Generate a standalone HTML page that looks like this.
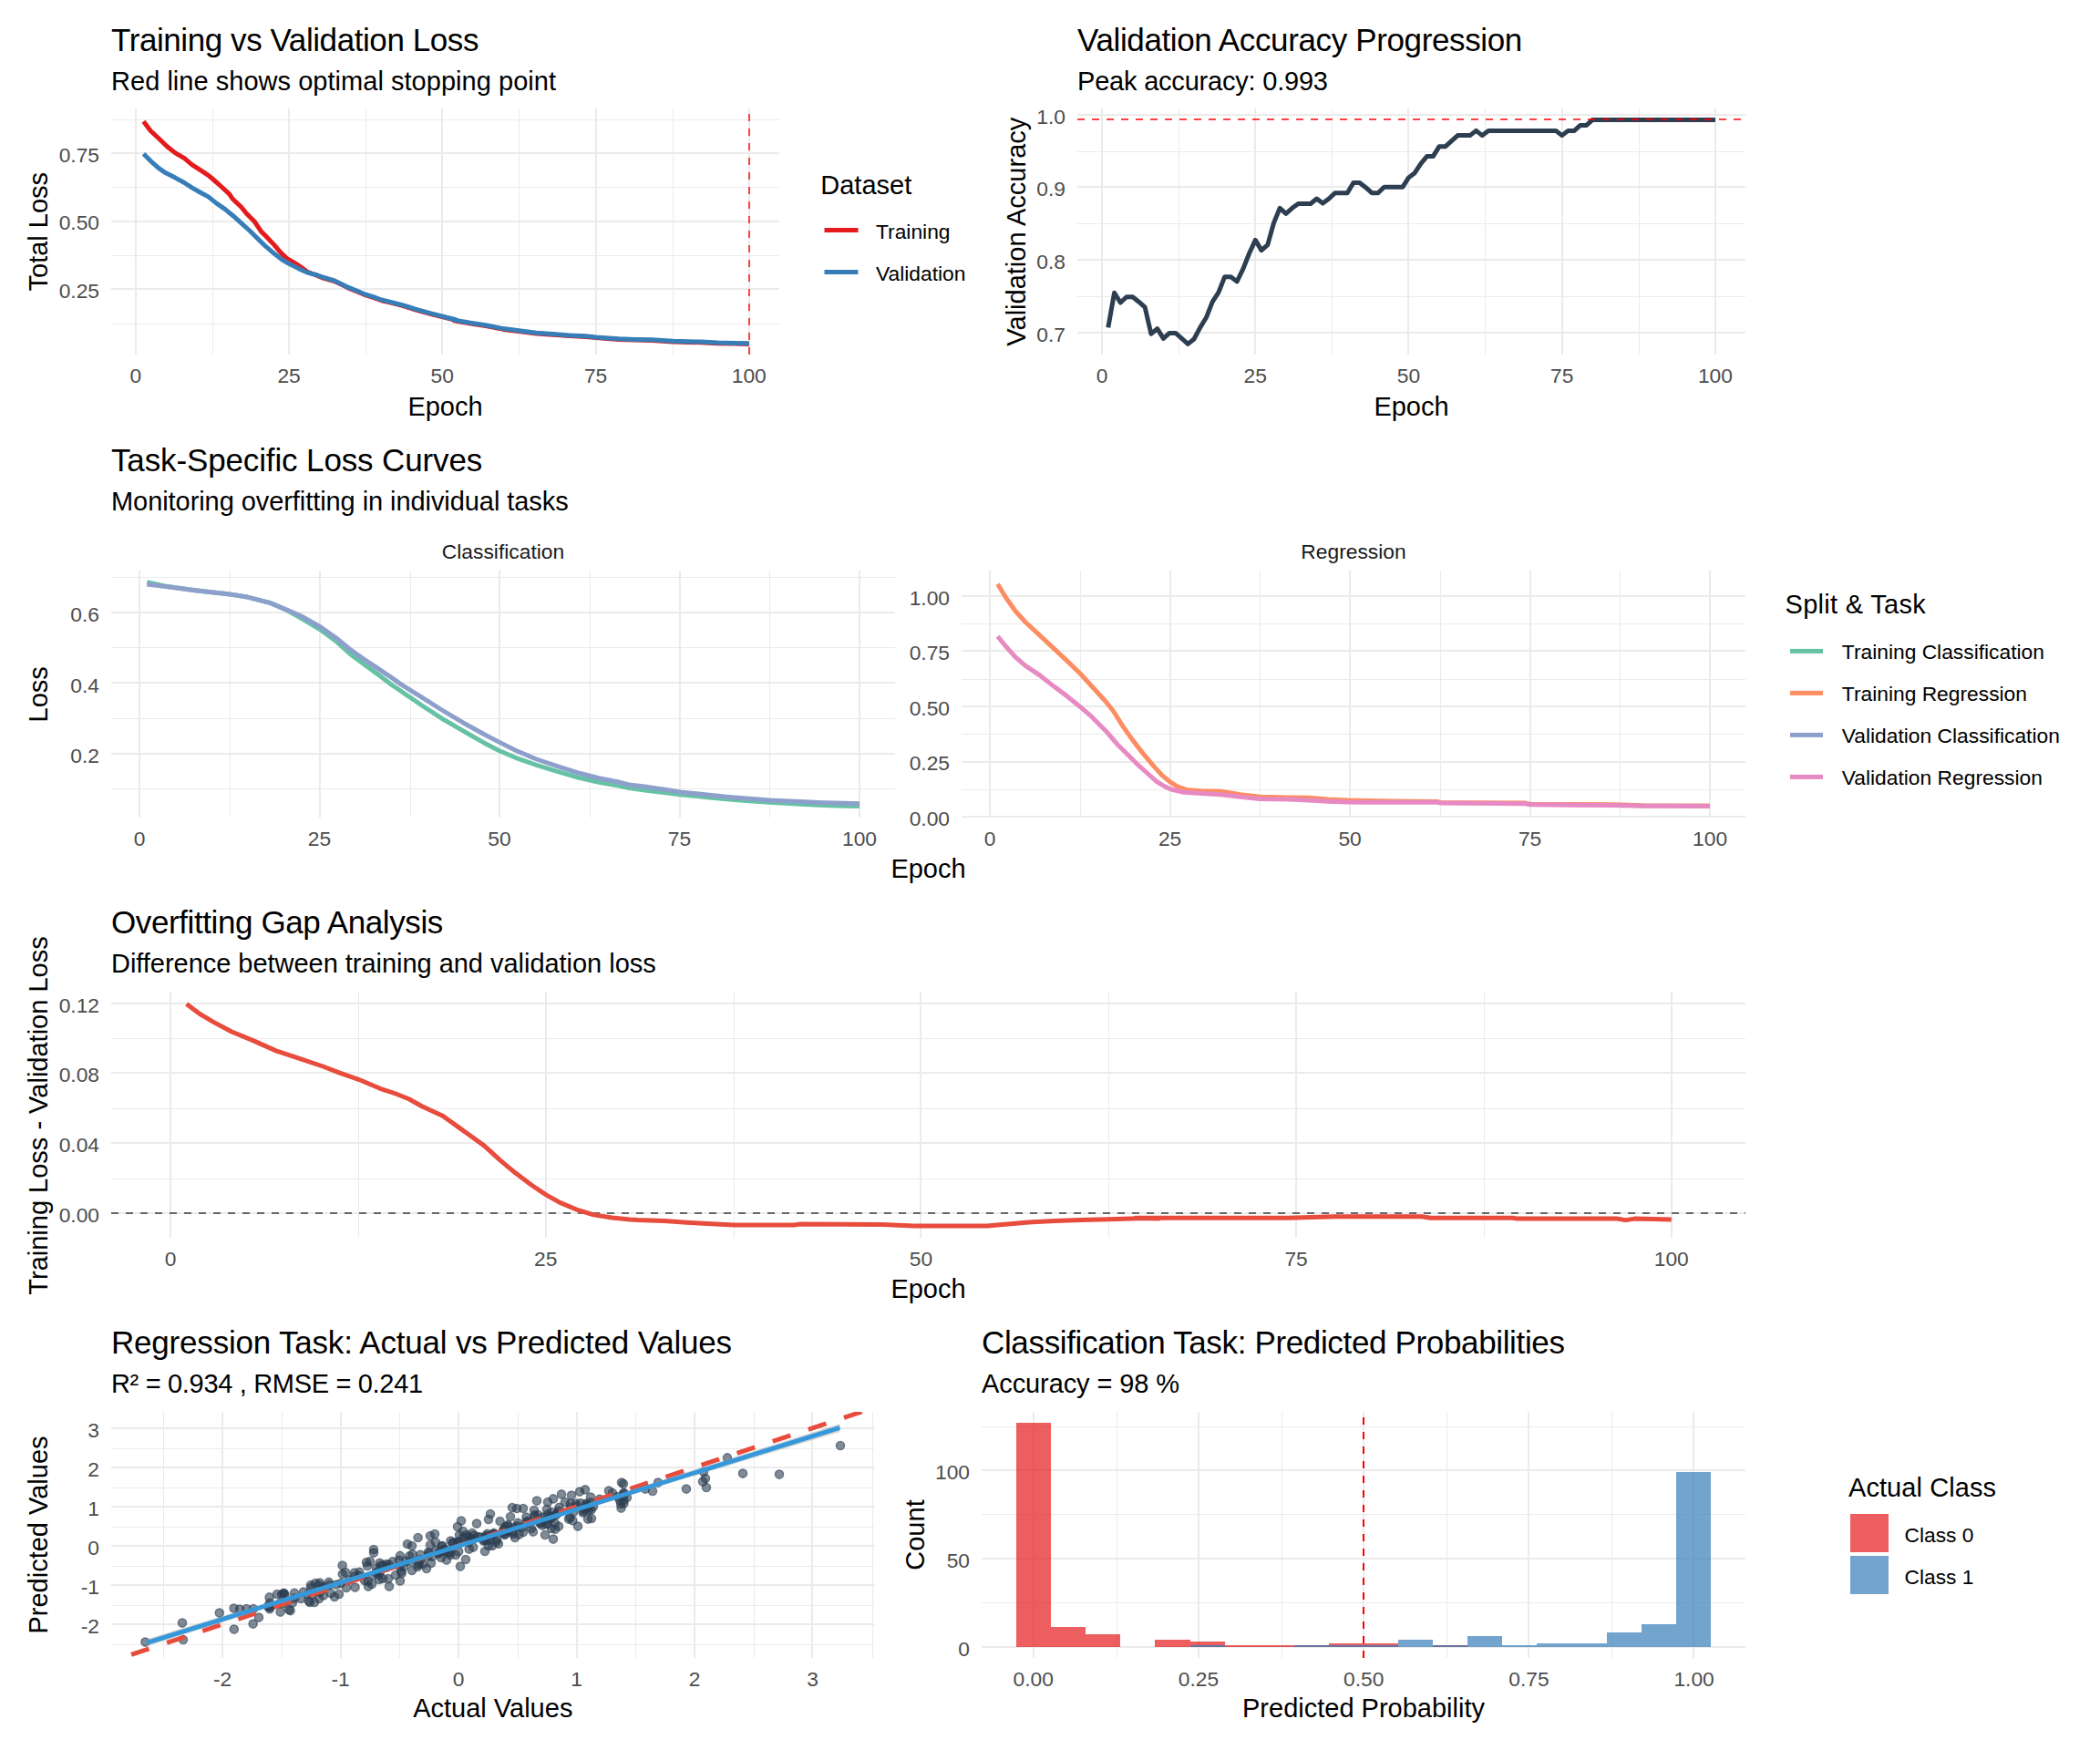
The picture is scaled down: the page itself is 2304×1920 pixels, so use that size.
<!DOCTYPE html>
<html><head><meta charset="utf-8"><title>Training diagnostics</title>
<style>
html,body{margin:0;padding:0;background:#fff;}
svg{display:block;}
text{font-family:"Liberation Sans",sans-serif;}
</style></head><body>
<svg width="2304" height="1920" viewBox="0 0 2304 1920">
<rect width="2304" height="1920" fill="#fff"/>
<rect x="122.0" y="131" width="733.0" height="1" fill="#EBEBEB" />
<rect x="122.0" y="205" width="733.0" height="1" fill="#EBEBEB" />
<rect x="122.0" y="280" width="733.0" height="1" fill="#EBEBEB" />
<rect x="122.0" y="355" width="733.0" height="1" fill="#EBEBEB" />
<rect x="233" y="119.0" width="1" height="270.0" fill="#EBEBEB" />
<rect x="401" y="119.0" width="1" height="270.0" fill="#EBEBEB" />
<rect x="569" y="119.0" width="1" height="270.0" fill="#EBEBEB" />
<rect x="738" y="119.0" width="1" height="270.0" fill="#EBEBEB" />
<rect x="122.0" y="167" width="733.0" height="2" fill="#EBEBEB" />
<rect x="122.0" y="242" width="733.0" height="2" fill="#EBEBEB" />
<rect x="122.0" y="316" width="733.0" height="2" fill="#EBEBEB" />
<rect x="148" y="119.0" width="2" height="270.0" fill="#EBEBEB" />
<rect x="316" y="119.0" width="2" height="270.0" fill="#EBEBEB" />
<rect x="484" y="119.0" width="2" height="270.0" fill="#EBEBEB" />
<rect x="653" y="119.0" width="2" height="270.0" fill="#EBEBEB" />
<rect x="821" y="119.0" width="2" height="270.0" fill="#EBEBEB" />
<text x="122.0" y="56.0" font-size="35" text-anchor="start" fill="#000" letter-spacing="-0.422">Training vs Validation Loss</text>
<text x="122.0" y="99.0" font-size="29" text-anchor="start" fill="#000" letter-spacing="0.032">Red line shows optimal stopping point</text>
<text x="109.0" y="326.9" font-size="22.8" text-anchor="end" fill="#4D4D4D">0.25</text>
<text x="109.0" y="252.4" font-size="22.8" text-anchor="end" fill="#4D4D4D">0.50</text>
<text x="109.0" y="177.9" font-size="22.8" text-anchor="end" fill="#4D4D4D">0.75</text>
<text x="148.8" y="420.4" font-size="22.8" text-anchor="middle" fill="#4D4D4D">0</text>
<text x="317.1" y="420.4" font-size="22.8" text-anchor="middle" fill="#4D4D4D">25</text>
<text x="485.3" y="420.4" font-size="22.8" text-anchor="middle" fill="#4D4D4D">50</text>
<text x="653.6" y="420.4" font-size="22.8" text-anchor="middle" fill="#4D4D4D">75</text>
<text x="821.8" y="420.4" font-size="22.8" text-anchor="middle" fill="#4D4D4D">100</text>
<text x="488.5" y="455.5" font-size="29" text-anchor="middle" fill="#000">Epoch</text>
<text x="52.0" y="254.2" font-size="29" text-anchor="middle" fill="#000" transform="rotate(-90 52.0 254.2)">Total Loss</text>
<polyline points="157.5,133.2 165.2,143.5 174.3,152.0 183.3,160.7 192.4,167.9 202.3,173.7 210.5,180.6 219.5,186.4 228.6,192.3 233.5,196.5 243.1,205.0 251.6,212.8 254.8,217.7 264.8,227.3 270.2,234.0 279.2,243.0 286.5,253.9 291.9,259.3 301.0,268.9 308.2,277.4 314.5,283.4 322.7,288.2 329.9,292.8 337.2,298.2 348.0,302.5 355.3,305.3 366.1,308.3 373.3,311.6 382.4,316.1 391.4,319.7 401.4,323.9 409.5,326.4 418.6,329.7 427.6,331.9 436.7,334.2 445.7,336.6 454.8,339.6 463.8,342.0 472.9,344.5 481.9,346.9 491.0,349.2 500.0,351.4 498.1,351.8 516.2,355.0 534.3,357.7 552.4,361.4 569.4,363.5 588.6,365.9 606.7,367.3 624.8,368.6 642.9,369.5 653.9,370.6 679.1,372.4 697.2,373.1 715.3,373.5 738.4,374.9 769.5,375.8 787.6,376.7 805.7,377.1 821.8,377.5" fill="none" stroke="#E41A1C" stroke-width="5" stroke-linejoin="round" stroke-linecap="butt" />
<polyline points="157.5,168.8 165.2,176.6 174.3,184.6 181.5,189.6 192.4,195.1 202.3,200.5 210.5,205.9 219.5,211.0 228.6,215.9 237.6,223.1 246.7,229.4 255.7,236.7 264.8,244.8 273.8,253.0 282.9,262.0 291.9,270.7 301.0,278.3 310.0,285.2 317.1,289.2 328.1,294.9 337.2,299.1 348.0,301.8 355.3,304.5 366.1,307.6 373.3,310.9 382.4,315.4 391.4,319.0 401.4,323.2 409.5,325.7 418.6,329.0 427.6,331.1 436.7,333.5 445.7,335.8 454.8,338.9 463.8,341.3 472.9,343.8 481.9,346.2 491.0,348.5 500.0,350.7 498.1,351.0 516.2,354.3 534.3,357.0 552.4,360.6 569.4,362.8 588.6,365.2 606.7,366.6 624.8,367.9 642.9,368.8 653.9,369.9 679.1,371.7 697.2,372.4 715.3,372.8 738.4,374.2 769.5,375.1 787.6,376.0 805.7,376.4 821.8,376.7" fill="none" stroke="#377EB8" stroke-width="5" stroke-linejoin="round" stroke-linecap="butt" />
<line x1="822" y1="389" x2="822" y2="119" stroke="#FF4040" stroke-width="2" stroke-dasharray="8 8" stroke-dashoffset="0" shape-rendering="crispEdges"/>
<text x="900.3" y="213.0" font-size="29" text-anchor="start" fill="#000">Dataset</text>
<rect x="904.5" y="250.0" width="37" height="5" fill="#E41A1C"/>
<text x="961.0" y="261.5" font-size="22.8" text-anchor="start" fill="#000">Training</text>
<rect x="904.5" y="296.0" width="37" height="5" fill="#377EB8"/>
<text x="961.0" y="307.5" font-size="22.8" text-anchor="start" fill="#000">Validation</text>
<rect x="1182.0" y="166" width="733.0" height="1" fill="#EBEBEB" />
<rect x="1182.0" y="245" width="733.0" height="1" fill="#EBEBEB" />
<rect x="1182.0" y="325" width="733.0" height="1" fill="#EBEBEB" />
<rect x="1293" y="119.0" width="1" height="270.0" fill="#EBEBEB" />
<rect x="1461" y="119.0" width="1" height="270.0" fill="#EBEBEB" />
<rect x="1629" y="119.0" width="1" height="270.0" fill="#EBEBEB" />
<rect x="1798" y="119.0" width="1" height="270.0" fill="#EBEBEB" />
<rect x="1182.0" y="125" width="733.0" height="2" fill="#EBEBEB" />
<rect x="1182.0" y="204" width="733.0" height="2" fill="#EBEBEB" />
<rect x="1182.0" y="284" width="733.0" height="2" fill="#EBEBEB" />
<rect x="1182.0" y="364" width="733.0" height="2" fill="#EBEBEB" />
<rect x="1208" y="119.0" width="2" height="270.0" fill="#EBEBEB" />
<rect x="1376" y="119.0" width="2" height="270.0" fill="#EBEBEB" />
<rect x="1544" y="119.0" width="2" height="270.0" fill="#EBEBEB" />
<rect x="1713" y="119.0" width="2" height="270.0" fill="#EBEBEB" />
<rect x="1881" y="119.0" width="2" height="270.0" fill="#EBEBEB" />
<text x="1182.0" y="56.0" font-size="35" text-anchor="start" fill="#000" letter-spacing="-0.368">Validation Accuracy Progression</text>
<text x="1182.0" y="99.0" font-size="29" text-anchor="start" fill="#000" letter-spacing="-0.205">Peak accuracy: 0.993</text>
<text x="1169.0" y="374.9" font-size="22.8" text-anchor="end" fill="#4D4D4D">0.7</text>
<text x="1169.0" y="295.2" font-size="22.8" text-anchor="end" fill="#4D4D4D">0.8</text>
<text x="1169.0" y="215.4" font-size="22.8" text-anchor="end" fill="#4D4D4D">0.9</text>
<text x="1169.0" y="135.7" font-size="22.8" text-anchor="end" fill="#4D4D4D">1.0</text>
<text x="1209.1" y="420.4" font-size="22.8" text-anchor="middle" fill="#4D4D4D">0</text>
<text x="1377.3" y="420.4" font-size="22.8" text-anchor="middle" fill="#4D4D4D">25</text>
<text x="1545.5" y="420.4" font-size="22.8" text-anchor="middle" fill="#4D4D4D">50</text>
<text x="1713.7" y="420.4" font-size="22.8" text-anchor="middle" fill="#4D4D4D">75</text>
<text x="1881.9" y="420.4" font-size="22.8" text-anchor="middle" fill="#4D4D4D">100</text>
<text x="1548.5" y="455.5" font-size="29" text-anchor="middle" fill="#000">Epoch</text>
<text x="1125.0" y="254.2" font-size="29" text-anchor="middle" fill="#000" transform="rotate(-90 1125.0 254.2)">Validation Accuracy</text>
<polyline points="1215.8,359.4 1222.6,321.2 1229.3,332.0 1236.0,325.7 1242.7,325.7 1249.5,331.2 1256.2,337.2 1262.9,366.3 1269.7,360.6 1276.4,371.4 1283.1,365.4 1289.8,365.4 1296.6,371.4 1303.3,377.4 1310.0,372.0 1316.7,359.4 1323.5,348.3 1330.2,331.2 1336.9,320.9 1343.7,303.7 1350.4,303.7 1357.1,308.9 1363.8,295.2 1370.6,278.0 1377.3,263.4 1384.0,274.6 1390.8,268.6 1397.5,244.6 1404.2,228.3 1410.9,234.3 1417.7,228.3 1424.4,223.5 1431.1,223.5 1437.9,223.5 1444.6,218.0 1451.3,223.1 1458.0,218.0 1464.8,211.7 1471.5,211.7 1478.2,211.7 1484.9,200.5 1491.7,200.5 1498.4,205.7 1505.1,211.7 1511.9,211.7 1518.6,205.3 1525.3,205.3 1532.0,205.3 1538.8,205.3 1545.5,194.9 1552.2,189.7 1559.0,179.4 1565.7,171.4 1572.4,171.4 1579.1,160.7 1585.9,160.7 1592.6,154.6 1599.3,148.6 1606.1,148.6 1612.8,148.6 1619.5,143.4 1626.2,148.6 1633.0,143.4 1639.7,143.4 1646.4,143.4 1653.1,143.4 1659.9,143.4 1666.6,143.4 1673.3,143.4 1680.1,143.4 1686.8,143.4 1693.5,143.4 1700.2,143.4 1707.0,143.4 1713.7,148.6 1720.4,143.4 1727.2,143.4 1733.9,137.4 1740.6,137.4 1747.3,131.4 1754.1,131.4 1760.8,131.4 1767.5,131.4 1774.3,131.4 1781.0,131.4 1787.7,131.4 1794.4,131.4 1801.2,131.4 1807.9,131.4 1814.6,131.4 1821.3,131.4 1828.1,131.4 1834.8,131.4 1841.5,131.4 1848.3,131.4 1855.0,131.4 1861.7,131.4 1868.4,131.4 1875.2,131.4 1881.9,131.4" fill="none" stroke="#2C3E50" stroke-width="5" stroke-linejoin="round" stroke-linecap="butt" stroke-linejoin="miter"/>
<line x1="1182" y1="131" x2="1915" y2="131" stroke="#FF0000" stroke-opacity="0.75" stroke-width="2" stroke-dasharray="8 8" shape-rendering="crispEdges"/>
<rect x="122.0" y="633" width="860.0" height="1" fill="#EBEBEB" />
<rect x="122.0" y="710" width="860.0" height="1" fill="#EBEBEB" />
<rect x="122.0" y="788" width="860.0" height="1" fill="#EBEBEB" />
<rect x="122.0" y="865" width="860.0" height="1" fill="#EBEBEB" />
<rect x="252" y="626.0" width="1" height="271.0" fill="#EBEBEB" />
<rect x="450" y="626.0" width="1" height="271.0" fill="#EBEBEB" />
<rect x="647" y="626.0" width="1" height="271.0" fill="#EBEBEB" />
<rect x="844" y="626.0" width="1" height="271.0" fill="#EBEBEB" />
<rect x="122.0" y="671" width="860.0" height="2" fill="#EBEBEB" />
<rect x="122.0" y="748" width="860.0" height="2" fill="#EBEBEB" />
<rect x="122.0" y="826" width="860.0" height="2" fill="#EBEBEB" />
<rect x="152" y="626.0" width="2" height="271.0" fill="#EBEBEB" />
<rect x="350" y="626.0" width="2" height="271.0" fill="#EBEBEB" />
<rect x="547" y="626.0" width="2" height="271.0" fill="#EBEBEB" />
<rect x="745" y="626.0" width="2" height="271.0" fill="#EBEBEB" />
<rect x="942" y="626.0" width="2" height="271.0" fill="#EBEBEB" />
<text x="109.0" y="836.9" font-size="22.8" text-anchor="end" fill="#4D4D4D">0.2</text>
<text x="109.0" y="759.6" font-size="22.8" text-anchor="end" fill="#4D4D4D">0.4</text>
<text x="109.0" y="682.2" font-size="22.8" text-anchor="end" fill="#4D4D4D">0.6</text>
<text x="153.0" y="928.4" font-size="22.8" text-anchor="middle" fill="#4D4D4D">0</text>
<text x="350.5" y="928.4" font-size="22.8" text-anchor="middle" fill="#4D4D4D">25</text>
<text x="548.0" y="928.4" font-size="22.8" text-anchor="middle" fill="#4D4D4D">50</text>
<text x="745.5" y="928.4" font-size="22.8" text-anchor="middle" fill="#4D4D4D">75</text>
<text x="943.0" y="928.4" font-size="22.8" text-anchor="middle" fill="#4D4D4D">100</text>
<text x="552.0" y="612.8" font-size="22.8" text-anchor="middle" fill="#1A1A1A">Classification</text>
<polyline points="161.3,638.7 184.2,643.6 216.2,647.9 252.5,652.1 269.5,654.7 297.0,661.7 315.2,669.8 330.5,678.3 351.0,690.5 368.6,703.5 383.8,717.2 399.0,728.6 414.3,739.6 429.5,751.2 440.0,758.3 462.9,774.0 485.7,788.8 508.6,802.2 531.4,815.2 548.0,823.8 565.7,831.3 588.6,839.4 611.4,846.3 634.3,853.1 657.1,858.3 680.0,862.3 690.0,864.6 711.4,867.4 732.8,870.0 745.9,871.7 775.7,874.7 797.1,876.8 818.6,878.6 844.5,880.3 882.8,882.4 904.3,883.5 925.7,884.3 943.0,884.6" fill="none" stroke="#66C2A5" stroke-width="5" stroke-linejoin="round" stroke-linecap="butt" />
<polyline points="161.3,641.0 185.7,644.0 216.2,647.9 252.5,652.1 269.5,654.7 297.0,661.6 315.2,669.2 330.5,676.0 351.0,687.5 368.6,699.7 383.8,712.2 399.0,723.0 414.3,733.2 429.5,743.4 440.0,750.9 462.9,765.2 485.7,779.5 508.6,793.2 531.4,805.8 548.0,814.4 565.7,823.2 588.6,833.0 611.4,840.6 634.3,848.0 657.1,853.7 680.0,858.3 690.0,861.0 711.4,863.6 732.8,866.8 745.9,868.9 775.7,872.1 797.1,874.3 818.6,876.0 844.5,878.1 882.8,879.8 904.3,880.7 925.7,881.3 943.0,881.8" fill="none" stroke="#8DA0CB" stroke-width="5" stroke-linejoin="round" stroke-linecap="butt" />
<rect x="1055.0" y="684" width="860.0" height="1" fill="#EBEBEB" />
<rect x="1055.0" y="745" width="860.0" height="1" fill="#EBEBEB" />
<rect x="1055.0" y="805" width="860.0" height="1" fill="#EBEBEB" />
<rect x="1055.0" y="866" width="860.0" height="1" fill="#EBEBEB" />
<rect x="1185" y="626.0" width="1" height="271.0" fill="#EBEBEB" />
<rect x="1382" y="626.0" width="1" height="271.0" fill="#EBEBEB" />
<rect x="1580" y="626.0" width="1" height="271.0" fill="#EBEBEB" />
<rect x="1777" y="626.0" width="1" height="271.0" fill="#EBEBEB" />
<rect x="1055.0" y="653" width="860.0" height="2" fill="#EBEBEB" />
<rect x="1055.0" y="713" width="860.0" height="2" fill="#EBEBEB" />
<rect x="1055.0" y="774" width="860.0" height="2" fill="#EBEBEB" />
<rect x="1055.0" y="835" width="860.0" height="2" fill="#EBEBEB" />
<rect x="1055.0" y="895" width="860.0" height="2" fill="#EBEBEB" />
<rect x="1085" y="626.0" width="2" height="271.0" fill="#EBEBEB" />
<rect x="1283" y="626.0" width="2" height="271.0" fill="#EBEBEB" />
<rect x="1480" y="626.0" width="2" height="271.0" fill="#EBEBEB" />
<rect x="1678" y="626.0" width="2" height="271.0" fill="#EBEBEB" />
<rect x="1875" y="626.0" width="2" height="271.0" fill="#EBEBEB" />
<text x="1042.0" y="905.9" font-size="22.8" text-anchor="end" fill="#4D4D4D">0.00</text>
<text x="1042.0" y="845.4" font-size="22.8" text-anchor="end" fill="#4D4D4D">0.25</text>
<text x="1042.0" y="784.9" font-size="22.8" text-anchor="end" fill="#4D4D4D">0.50</text>
<text x="1042.0" y="724.3" font-size="22.8" text-anchor="end" fill="#4D4D4D">0.75</text>
<text x="1042.0" y="663.8" font-size="22.8" text-anchor="end" fill="#4D4D4D">1.00</text>
<text x="1086.1" y="928.4" font-size="22.8" text-anchor="middle" fill="#4D4D4D">0</text>
<text x="1283.6" y="928.4" font-size="22.8" text-anchor="middle" fill="#4D4D4D">25</text>
<text x="1481.1" y="928.4" font-size="22.8" text-anchor="middle" fill="#4D4D4D">50</text>
<text x="1678.6" y="928.4" font-size="22.8" text-anchor="middle" fill="#4D4D4D">75</text>
<text x="1876.1" y="928.4" font-size="22.8" text-anchor="middle" fill="#4D4D4D">100</text>
<text x="1485.0" y="612.8" font-size="22.8" text-anchor="middle" fill="#1A1A1A">Regression</text>
<polyline points="1094.6,640.7 1103.6,655.7 1114.3,670.7 1125.0,682.5 1140.0,696.4 1155.0,710.3 1170.0,724.3 1185.4,739.3 1200.0,755.3 1212.8,769.3 1221.4,780.0 1232.1,797.1 1242.8,812.1 1253.6,826.1 1264.3,838.9 1275.0,850.7 1284.0,858.2 1292.1,863.1 1302.8,866.8 1317.8,867.8 1339.3,868.3 1360.7,871.7 1382.5,874.3 1414.3,874.9 1435.7,875.3 1457.1,877.1 1478.5,878.1 1500.0,878.6 1577.1,879.6 1580.3,880.5 1673.6,881.1 1678.9,882.2 1720.7,882.6 1770.0,882.8 1802.1,883.7 1876.0,883.9" fill="none" stroke="#FC8D62" stroke-width="5" stroke-linejoin="round" stroke-linecap="butt" />
<polyline points="1094.6,698.1 1103.6,709.3 1114.3,721.1 1125.0,730.3 1140.0,740.3 1155.0,752.1 1170.0,763.3 1185.4,775.7 1197.8,786.4 1212.8,801.4 1225.7,816.4 1238.6,829.3 1247.1,837.8 1257.8,847.5 1268.6,857.1 1277.1,862.5 1284.0,865.7 1298.6,869.3 1317.8,870.4 1339.3,871.7 1360.7,874.3 1382.5,876.4 1414.3,877.1 1435.7,878.1 1457.1,879.2 1478.5,880.1 1500.0,880.3 1577.1,880.3 1580.3,881.1 1673.6,881.8 1678.9,882.8 1720.7,883.3 1770.0,883.5 1802.1,884.3 1876.0,884.6" fill="none" stroke="#E78AC3" stroke-width="5" stroke-linejoin="round" stroke-linecap="butt" />
<text x="122.0" y="517.0" font-size="35" text-anchor="start" fill="#000" letter-spacing="-0.130">Task-Specific Loss Curves</text>
<text x="122.0" y="560.0" font-size="29" text-anchor="start" fill="#000" letter-spacing="-0.069">Monitoring overfitting in individual tasks</text>
<text x="1018.5" y="963.0" font-size="29" text-anchor="middle" fill="#000">Epoch</text>
<text x="52.0" y="761.8" font-size="29" text-anchor="middle" fill="#000" transform="rotate(-90 52.0 761.8)">Loss</text>
<text x="1958.5" y="673.4" font-size="29" text-anchor="start" fill="#000" letter-spacing="0.306">Split &amp; Task</text>
<rect x="1964" y="711.9" width="36" height="5" fill="#66C2A5"/>
<text x="2020.8" y="723.4" font-size="22.8" text-anchor="start" fill="#000">Training Classification</text>
<rect x="1964" y="757.9" width="36" height="5" fill="#FC8D62"/>
<text x="2020.8" y="769.4" font-size="22.8" text-anchor="start" fill="#000">Training Regression</text>
<rect x="1964" y="803.9" width="36" height="5" fill="#8DA0CB"/>
<text x="2020.8" y="815.4" font-size="22.8" text-anchor="start" fill="#000">Validation Classification</text>
<rect x="1964" y="849.9" width="36" height="5" fill="#E78AC3"/>
<text x="2020.8" y="861.4" font-size="22.8" text-anchor="start" fill="#000">Validation Regression</text>
<rect x="122.0" y="1139" width="1793.0" height="1" fill="#EBEBEB" />
<rect x="122.0" y="1216" width="1793.0" height="1" fill="#EBEBEB" />
<rect x="122.0" y="1293" width="1793.0" height="1" fill="#EBEBEB" />
<rect x="393" y="1088.0" width="1" height="270.0" fill="#EBEBEB" />
<rect x="805" y="1088.0" width="1" height="270.0" fill="#EBEBEB" />
<rect x="1216" y="1088.0" width="1" height="270.0" fill="#EBEBEB" />
<rect x="1628" y="1088.0" width="1" height="270.0" fill="#EBEBEB" />
<rect x="122.0" y="1100" width="1793.0" height="2" fill="#EBEBEB" />
<rect x="122.0" y="1176" width="1793.0" height="2" fill="#EBEBEB" />
<rect x="122.0" y="1253" width="1793.0" height="2" fill="#EBEBEB" />
<rect x="122.0" y="1330" width="1793.0" height="2" fill="#EBEBEB" />
<rect x="186" y="1088.0" width="2" height="270.0" fill="#EBEBEB" />
<rect x="598" y="1088.0" width="2" height="270.0" fill="#EBEBEB" />
<rect x="1009" y="1088.0" width="2" height="270.0" fill="#EBEBEB" />
<rect x="1421" y="1088.0" width="2" height="270.0" fill="#EBEBEB" />
<rect x="1833" y="1088.0" width="2" height="270.0" fill="#EBEBEB" />
<text x="122.0" y="1024.0" font-size="35" text-anchor="start" fill="#000" letter-spacing="-0.399">Overfitting Gap Analysis</text>
<text x="122.0" y="1067.0" font-size="29" text-anchor="start" fill="#000" letter-spacing="-0.032">Difference between training and validation loss</text>
<text x="109.0" y="1340.9" font-size="22.8" text-anchor="end" fill="#4D4D4D">0.00</text>
<text x="109.0" y="1264.1" font-size="22.8" text-anchor="end" fill="#4D4D4D">0.04</text>
<text x="109.0" y="1187.4" font-size="22.8" text-anchor="end" fill="#4D4D4D">0.08</text>
<text x="109.0" y="1110.6" font-size="22.8" text-anchor="end" fill="#4D4D4D">0.12</text>
<text x="187.1" y="1389.4" font-size="22.8" text-anchor="middle" fill="#4D4D4D">0</text>
<text x="598.8" y="1389.4" font-size="22.8" text-anchor="middle" fill="#4D4D4D">25</text>
<text x="1010.4" y="1389.4" font-size="22.8" text-anchor="middle" fill="#4D4D4D">50</text>
<text x="1422.1" y="1389.4" font-size="22.8" text-anchor="middle" fill="#4D4D4D">75</text>
<text x="1833.8" y="1389.4" font-size="22.8" text-anchor="middle" fill="#4D4D4D">100</text>
<text x="1018.5" y="1424.0" font-size="29" text-anchor="middle" fill="#000">Epoch</text>
<text x="52.0" y="1224.0" font-size="29" text-anchor="middle" fill="#000" transform="rotate(-90 52.0 1224.0)">Training Loss - Validation Loss</text>
<line x1="122" y1="1331" x2="1915" y2="1331" stroke="#666666" stroke-width="2" stroke-dasharray="8 8" shape-rendering="crispEdges"/>
<polyline points="204.6,1101.4 220.0,1112.9 234.3,1121.4 254.3,1132.0 277.1,1141.4 302.9,1152.9 328.6,1161.4 354.3,1170.0 371.4,1176.6 393.4,1184.3 417.1,1194.3 434.3,1200.0 448.6,1205.7 462.9,1213.7 485.7,1224.3 505.7,1238.6 531.4,1257.1 548.6,1272.9 565.7,1287.1 582.9,1300.0 599.1,1310.9 614.3,1319.4 634.3,1327.7 651.4,1332.9 671.4,1336.0 691.4,1338.0 700.0,1338.6 728.6,1339.4 757.1,1341.4 785.7,1342.9 805.7,1344.0 871.4,1344.0 877.1,1343.1 968.6,1343.4 1002.9,1345.1 1082.9,1345.1 1100.0,1343.4 1128.6,1340.9 1157.1,1339.4 1185.7,1338.6 1216.6,1337.7 1257.1,1336.6 1271.4,1337.1 1245.7,1336.2 1412.4,1336.2 1464.8,1334.8 1560.0,1334.8 1569.5,1336.2 1660.0,1336.2 1664.8,1337.1 1774.3,1337.1 1783.8,1338.6 1793.3,1337.1 1833.8,1338.1" fill="none" stroke="#E74C3C" stroke-width="5" stroke-linejoin="round" stroke-linecap="butt" />
<rect x="122.0" y="1589" width="837.5" height="1" fill="#EBEBEB" />
<rect x="122.0" y="1632" width="837.5" height="1" fill="#EBEBEB" />
<rect x="122.0" y="1675" width="837.5" height="1" fill="#EBEBEB" />
<rect x="122.0" y="1718" width="837.5" height="1" fill="#EBEBEB" />
<rect x="122.0" y="1761" width="837.5" height="1" fill="#EBEBEB" />
<rect x="122.0" y="1804" width="837.5" height="1" fill="#EBEBEB" />
<rect x="179" y="1549.0" width="1" height="270.0" fill="#EBEBEB" />
<rect x="309" y="1549.0" width="1" height="270.0" fill="#EBEBEB" />
<rect x="438" y="1549.0" width="1" height="270.0" fill="#EBEBEB" />
<rect x="568" y="1549.0" width="1" height="270.0" fill="#EBEBEB" />
<rect x="697" y="1549.0" width="1" height="270.0" fill="#EBEBEB" />
<rect x="827" y="1549.0" width="1" height="270.0" fill="#EBEBEB" />
<rect x="957" y="1549.0" width="1" height="270.0" fill="#EBEBEB" />
<rect x="122.0" y="1566" width="837.5" height="2" fill="#EBEBEB" />
<rect x="122.0" y="1609" width="837.5" height="2" fill="#EBEBEB" />
<rect x="122.0" y="1652" width="837.5" height="2" fill="#EBEBEB" />
<rect x="122.0" y="1695" width="837.5" height="2" fill="#EBEBEB" />
<rect x="122.0" y="1738" width="837.5" height="2" fill="#EBEBEB" />
<rect x="122.0" y="1781" width="837.5" height="2" fill="#EBEBEB" />
<rect x="243" y="1549.0" width="2" height="270.0" fill="#EBEBEB" />
<rect x="373" y="1549.0" width="2" height="270.0" fill="#EBEBEB" />
<rect x="502" y="1549.0" width="2" height="270.0" fill="#EBEBEB" />
<rect x="632" y="1549.0" width="2" height="270.0" fill="#EBEBEB" />
<rect x="761" y="1549.0" width="2" height="270.0" fill="#EBEBEB" />
<rect x="890" y="1549.0" width="2" height="270.0" fill="#EBEBEB" />
<text x="122.0" y="1485.0" font-size="35" text-anchor="start" fill="#000" letter-spacing="-0.196">Regression Task: Actual vs Predicted Values</text>
<text x="122.0" y="1528.0" font-size="29" text-anchor="start" fill="#000" letter-spacing="-0.321">R² = 0.934 , RMSE = 0.241</text>
<text x="109.0" y="1792.1" font-size="22.8" text-anchor="end" fill="#4D4D4D">-2</text>
<text x="109.0" y="1749.0" font-size="22.8" text-anchor="end" fill="#4D4D4D">-1</text>
<text x="109.0" y="1706.0" font-size="22.8" text-anchor="end" fill="#4D4D4D">0</text>
<text x="109.0" y="1663.0" font-size="22.8" text-anchor="end" fill="#4D4D4D">1</text>
<text x="109.0" y="1619.9" font-size="22.8" text-anchor="end" fill="#4D4D4D">2</text>
<text x="109.0" y="1576.8" font-size="22.8" text-anchor="end" fill="#4D4D4D">3</text>
<text x="244.1" y="1850.4" font-size="22.8" text-anchor="middle" fill="#4D4D4D">-2</text>
<text x="373.6" y="1850.4" font-size="22.8" text-anchor="middle" fill="#4D4D4D">-1</text>
<text x="503.1" y="1850.4" font-size="22.8" text-anchor="middle" fill="#4D4D4D">0</text>
<text x="632.6" y="1850.4" font-size="22.8" text-anchor="middle" fill="#4D4D4D">1</text>
<text x="762.1" y="1850.4" font-size="22.8" text-anchor="middle" fill="#4D4D4D">2</text>
<text x="891.6" y="1850.4" font-size="22.8" text-anchor="middle" fill="#4D4D4D">3</text>
<text x="540.8" y="1884.0" font-size="29" text-anchor="middle" fill="#000">Actual Values</text>
<text x="52.0" y="1684.0" font-size="29" text-anchor="middle" fill="#000" transform="rotate(-90 52.0 1684.0)">Predicted Values</text>
<clipPath id="c5"><rect x="122" y="1549" width="837.5" height="270"/></clipPath>
<g clip-path="url(#c5)">
<circle cx="159.4" cy="1801.6" r="4.6" fill="#2C3E50" fill-opacity="0.6" stroke="#2C3E50" stroke-opacity="0.6" stroke-width="1.4"/>
<circle cx="200.0" cy="1780.6" r="4.6" fill="#2C3E50" fill-opacity="0.6" stroke="#2C3E50" stroke-opacity="0.6" stroke-width="1.4"/>
<circle cx="201.0" cy="1799.0" r="4.6" fill="#2C3E50" fill-opacity="0.6" stroke="#2C3E50" stroke-opacity="0.6" stroke-width="1.4"/>
<circle cx="240.8" cy="1769.6" r="4.6" fill="#2C3E50" fill-opacity="0.6" stroke="#2C3E50" stroke-opacity="0.6" stroke-width="1.4"/>
<circle cx="256.8" cy="1787.6" r="4.6" fill="#2C3E50" fill-opacity="0.6" stroke="#2C3E50" stroke-opacity="0.6" stroke-width="1.4"/>
<circle cx="256.6" cy="1764.6" r="4.6" fill="#2C3E50" fill-opacity="0.6" stroke="#2C3E50" stroke-opacity="0.6" stroke-width="1.4"/>
<circle cx="263.0" cy="1765.6" r="4.6" fill="#2C3E50" fill-opacity="0.6" stroke="#2C3E50" stroke-opacity="0.6" stroke-width="1.4"/>
<circle cx="270.4" cy="1765.0" r="4.6" fill="#2C3E50" fill-opacity="0.6" stroke="#2C3E50" stroke-opacity="0.6" stroke-width="1.4"/>
<circle cx="278.0" cy="1765.0" r="4.6" fill="#2C3E50" fill-opacity="0.6" stroke="#2C3E50" stroke-opacity="0.6" stroke-width="1.4"/>
<circle cx="277.6" cy="1781.6" r="4.6" fill="#2C3E50" fill-opacity="0.6" stroke="#2C3E50" stroke-opacity="0.6" stroke-width="1.4"/>
<circle cx="284.0" cy="1774.6" r="4.6" fill="#2C3E50" fill-opacity="0.6" stroke="#2C3E50" stroke-opacity="0.6" stroke-width="1.4"/>
<circle cx="295.6" cy="1752.4" r="4.6" fill="#2C3E50" fill-opacity="0.6" stroke="#2C3E50" stroke-opacity="0.6" stroke-width="1.4"/>
<circle cx="294.0" cy="1762.4" r="4.6" fill="#2C3E50" fill-opacity="0.6" stroke="#2C3E50" stroke-opacity="0.6" stroke-width="1.4"/>
<circle cx="304.0" cy="1749.0" r="4.6" fill="#2C3E50" fill-opacity="0.6" stroke="#2C3E50" stroke-opacity="0.6" stroke-width="1.4"/>
<circle cx="309.0" cy="1749.6" r="4.6" fill="#2C3E50" fill-opacity="0.6" stroke="#2C3E50" stroke-opacity="0.6" stroke-width="1.4"/>
<circle cx="311.0" cy="1748.0" r="4.6" fill="#2C3E50" fill-opacity="0.6" stroke="#2C3E50" stroke-opacity="0.6" stroke-width="1.4"/>
<circle cx="307.6" cy="1768.6" r="4.6" fill="#2C3E50" fill-opacity="0.6" stroke="#2C3E50" stroke-opacity="0.6" stroke-width="1.4"/>
<circle cx="317.0" cy="1766.0" r="4.6" fill="#2C3E50" fill-opacity="0.6" stroke="#2C3E50" stroke-opacity="0.6" stroke-width="1.4"/>
<circle cx="323.0" cy="1753.6" r="4.6" fill="#2C3E50" fill-opacity="0.6" stroke="#2C3E50" stroke-opacity="0.6" stroke-width="1.4"/>
<circle cx="330.0" cy="1754.0" r="4.6" fill="#2C3E50" fill-opacity="0.6" stroke="#2C3E50" stroke-opacity="0.6" stroke-width="1.4"/>
<circle cx="333.0" cy="1746.6" r="4.6" fill="#2C3E50" fill-opacity="0.6" stroke="#2C3E50" stroke-opacity="0.6" stroke-width="1.4"/>
<circle cx="341.0" cy="1739.0" r="4.6" fill="#2C3E50" fill-opacity="0.6" stroke="#2C3E50" stroke-opacity="0.6" stroke-width="1.4"/>
<circle cx="346.0" cy="1737.0" r="4.6" fill="#2C3E50" fill-opacity="0.6" stroke="#2C3E50" stroke-opacity="0.6" stroke-width="1.4"/>
<circle cx="350.0" cy="1739.0" r="4.6" fill="#2C3E50" fill-opacity="0.6" stroke="#2C3E50" stroke-opacity="0.6" stroke-width="1.4"/>
<circle cx="355.0" cy="1741.0" r="4.6" fill="#2C3E50" fill-opacity="0.6" stroke="#2C3E50" stroke-opacity="0.6" stroke-width="1.4"/>
<circle cx="340.0" cy="1758.0" r="4.6" fill="#2C3E50" fill-opacity="0.6" stroke="#2C3E50" stroke-opacity="0.6" stroke-width="1.4"/>
<circle cx="345.0" cy="1758.0" r="4.6" fill="#2C3E50" fill-opacity="0.6" stroke="#2C3E50" stroke-opacity="0.6" stroke-width="1.4"/>
<circle cx="350.0" cy="1754.0" r="4.6" fill="#2C3E50" fill-opacity="0.6" stroke="#2C3E50" stroke-opacity="0.6" stroke-width="1.4"/>
<circle cx="363.0" cy="1748.0" r="4.6" fill="#2C3E50" fill-opacity="0.6" stroke="#2C3E50" stroke-opacity="0.6" stroke-width="1.4"/>
<circle cx="367.0" cy="1752.0" r="4.6" fill="#2C3E50" fill-opacity="0.6" stroke="#2C3E50" stroke-opacity="0.6" stroke-width="1.4"/>
<circle cx="372.0" cy="1749.0" r="4.6" fill="#2C3E50" fill-opacity="0.6" stroke="#2C3E50" stroke-opacity="0.6" stroke-width="1.4"/>
<circle cx="375.6" cy="1717.6" r="4.6" fill="#2C3E50" fill-opacity="0.6" stroke="#2C3E50" stroke-opacity="0.6" stroke-width="1.4"/>
<circle cx="379.0" cy="1725.0" r="4.6" fill="#2C3E50" fill-opacity="0.6" stroke="#2C3E50" stroke-opacity="0.6" stroke-width="1.4"/>
<circle cx="389.0" cy="1725.6" r="4.6" fill="#2C3E50" fill-opacity="0.6" stroke="#2C3E50" stroke-opacity="0.6" stroke-width="1.4"/>
<circle cx="380.0" cy="1742.0" r="4.6" fill="#2C3E50" fill-opacity="0.6" stroke="#2C3E50" stroke-opacity="0.6" stroke-width="1.4"/>
<circle cx="389.6" cy="1741.6" r="4.6" fill="#2C3E50" fill-opacity="0.6" stroke="#2C3E50" stroke-opacity="0.6" stroke-width="1.4"/>
<circle cx="374.0" cy="1737.0" r="4.6" fill="#2C3E50" fill-opacity="0.6" stroke="#2C3E50" stroke-opacity="0.6" stroke-width="1.4"/>
<circle cx="402.0" cy="1714.0" r="4.6" fill="#2C3E50" fill-opacity="0.6" stroke="#2C3E50" stroke-opacity="0.6" stroke-width="1.4"/>
<circle cx="406.0" cy="1713.0" r="4.6" fill="#2C3E50" fill-opacity="0.6" stroke="#2C3E50" stroke-opacity="0.6" stroke-width="1.4"/>
<circle cx="403.0" cy="1718.0" r="4.6" fill="#2C3E50" fill-opacity="0.6" stroke="#2C3E50" stroke-opacity="0.6" stroke-width="1.4"/>
<circle cx="410.0" cy="1700.0" r="4.6" fill="#2C3E50" fill-opacity="0.6" stroke="#2C3E50" stroke-opacity="0.6" stroke-width="1.4"/>
<circle cx="410.0" cy="1703.6" r="4.6" fill="#2C3E50" fill-opacity="0.6" stroke="#2C3E50" stroke-opacity="0.6" stroke-width="1.4"/>
<circle cx="404.0" cy="1740.6" r="4.6" fill="#2C3E50" fill-opacity="0.6" stroke="#2C3E50" stroke-opacity="0.6" stroke-width="1.4"/>
<circle cx="408.0" cy="1738.0" r="4.6" fill="#2C3E50" fill-opacity="0.6" stroke="#2C3E50" stroke-opacity="0.6" stroke-width="1.4"/>
<circle cx="400.0" cy="1734.0" r="4.6" fill="#2C3E50" fill-opacity="0.6" stroke="#2C3E50" stroke-opacity="0.6" stroke-width="1.4"/>
<circle cx="416.0" cy="1733.0" r="4.6" fill="#2C3E50" fill-opacity="0.6" stroke="#2C3E50" stroke-opacity="0.6" stroke-width="1.4"/>
<circle cx="420.0" cy="1732.0" r="4.6" fill="#2C3E50" fill-opacity="0.6" stroke="#2C3E50" stroke-opacity="0.6" stroke-width="1.4"/>
<circle cx="424.0" cy="1716.0" r="4.6" fill="#2C3E50" fill-opacity="0.6" stroke="#2C3E50" stroke-opacity="0.6" stroke-width="1.4"/>
<circle cx="420.0" cy="1717.0" r="4.6" fill="#2C3E50" fill-opacity="0.6" stroke="#2C3E50" stroke-opacity="0.6" stroke-width="1.4"/>
<circle cx="426.0" cy="1732.0" r="4.6" fill="#2C3E50" fill-opacity="0.6" stroke="#2C3E50" stroke-opacity="0.6" stroke-width="1.4"/>
<circle cx="427.0" cy="1740.6" r="4.6" fill="#2C3E50" fill-opacity="0.6" stroke="#2C3E50" stroke-opacity="0.6" stroke-width="1.4"/>
<circle cx="439.0" cy="1734.4" r="4.6" fill="#2C3E50" fill-opacity="0.6" stroke="#2C3E50" stroke-opacity="0.6" stroke-width="1.4"/>
<circle cx="434.0" cy="1728.0" r="4.6" fill="#2C3E50" fill-opacity="0.6" stroke="#2C3E50" stroke-opacity="0.6" stroke-width="1.4"/>
<circle cx="440.0" cy="1724.0" r="4.6" fill="#2C3E50" fill-opacity="0.6" stroke="#2C3E50" stroke-opacity="0.6" stroke-width="1.4"/>
<circle cx="447.0" cy="1694.0" r="4.6" fill="#2C3E50" fill-opacity="0.6" stroke="#2C3E50" stroke-opacity="0.6" stroke-width="1.4"/>
<circle cx="452.0" cy="1696.0" r="4.6" fill="#2C3E50" fill-opacity="0.6" stroke="#2C3E50" stroke-opacity="0.6" stroke-width="1.4"/>
<circle cx="458.6" cy="1687.0" r="4.6" fill="#2C3E50" fill-opacity="0.6" stroke="#2C3E50" stroke-opacity="0.6" stroke-width="1.4"/>
<circle cx="472.0" cy="1685.0" r="4.6" fill="#2C3E50" fill-opacity="0.6" stroke="#2C3E50" stroke-opacity="0.6" stroke-width="1.4"/>
<circle cx="477.0" cy="1683.0" r="4.6" fill="#2C3E50" fill-opacity="0.6" stroke="#2C3E50" stroke-opacity="0.6" stroke-width="1.4"/>
<circle cx="478.0" cy="1692.0" r="4.6" fill="#2C3E50" fill-opacity="0.6" stroke="#2C3E50" stroke-opacity="0.6" stroke-width="1.4"/>
<circle cx="485.0" cy="1696.0" r="4.6" fill="#2C3E50" fill-opacity="0.6" stroke="#2C3E50" stroke-opacity="0.6" stroke-width="1.4"/>
<circle cx="472.0" cy="1695.0" r="4.6" fill="#2C3E50" fill-opacity="0.6" stroke="#2C3E50" stroke-opacity="0.6" stroke-width="1.4"/>
<circle cx="468.0" cy="1721.0" r="4.6" fill="#2C3E50" fill-opacity="0.6" stroke="#2C3E50" stroke-opacity="0.6" stroke-width="1.4"/>
<circle cx="473.0" cy="1715.0" r="4.6" fill="#2C3E50" fill-opacity="0.6" stroke="#2C3E50" stroke-opacity="0.6" stroke-width="1.4"/>
<circle cx="464.0" cy="1716.0" r="4.6" fill="#2C3E50" fill-opacity="0.6" stroke="#2C3E50" stroke-opacity="0.6" stroke-width="1.4"/>
<circle cx="458.0" cy="1719.0" r="4.6" fill="#2C3E50" fill-opacity="0.6" stroke="#2C3E50" stroke-opacity="0.6" stroke-width="1.4"/>
<circle cx="452.0" cy="1723.0" r="4.6" fill="#2C3E50" fill-opacity="0.6" stroke="#2C3E50" stroke-opacity="0.6" stroke-width="1.4"/>
<circle cx="490.0" cy="1711.6" r="4.6" fill="#2C3E50" fill-opacity="0.6" stroke="#2C3E50" stroke-opacity="0.6" stroke-width="1.4"/>
<circle cx="494.0" cy="1706.0" r="4.6" fill="#2C3E50" fill-opacity="0.6" stroke="#2C3E50" stroke-opacity="0.6" stroke-width="1.4"/>
<circle cx="500.0" cy="1706.0" r="4.6" fill="#2C3E50" fill-opacity="0.6" stroke="#2C3E50" stroke-opacity="0.6" stroke-width="1.4"/>
<circle cx="505.0" cy="1718.6" r="4.6" fill="#2C3E50" fill-opacity="0.6" stroke="#2C3E50" stroke-opacity="0.6" stroke-width="1.4"/>
<circle cx="511.0" cy="1711.0" r="4.6" fill="#2C3E50" fill-opacity="0.6" stroke="#2C3E50" stroke-opacity="0.6" stroke-width="1.4"/>
<circle cx="502.0" cy="1675.0" r="4.6" fill="#2C3E50" fill-opacity="0.6" stroke="#2C3E50" stroke-opacity="0.6" stroke-width="1.4"/>
<circle cx="506.0" cy="1668.6" r="4.6" fill="#2C3E50" fill-opacity="0.6" stroke="#2C3E50" stroke-opacity="0.6" stroke-width="1.4"/>
<circle cx="523.0" cy="1671.6" r="4.6" fill="#2C3E50" fill-opacity="0.6" stroke="#2C3E50" stroke-opacity="0.6" stroke-width="1.4"/>
<circle cx="508.0" cy="1680.0" r="4.6" fill="#2C3E50" fill-opacity="0.6" stroke="#2C3E50" stroke-opacity="0.6" stroke-width="1.4"/>
<circle cx="504.0" cy="1684.0" r="4.6" fill="#2C3E50" fill-opacity="0.6" stroke="#2C3E50" stroke-opacity="0.6" stroke-width="1.4"/>
<circle cx="512.0" cy="1684.0" r="4.6" fill="#2C3E50" fill-opacity="0.6" stroke="#2C3E50" stroke-opacity="0.6" stroke-width="1.4"/>
<circle cx="518.0" cy="1682.0" r="4.6" fill="#2C3E50" fill-opacity="0.6" stroke="#2C3E50" stroke-opacity="0.6" stroke-width="1.4"/>
<circle cx="532.0" cy="1702.0" r="4.6" fill="#2C3E50" fill-opacity="0.6" stroke="#2C3E50" stroke-opacity="0.6" stroke-width="1.4"/>
<circle cx="536.0" cy="1696.0" r="4.6" fill="#2C3E50" fill-opacity="0.6" stroke="#2C3E50" stroke-opacity="0.6" stroke-width="1.4"/>
<circle cx="538.0" cy="1661.0" r="4.6" fill="#2C3E50" fill-opacity="0.6" stroke="#2C3E50" stroke-opacity="0.6" stroke-width="1.4"/>
<circle cx="536.0" cy="1667.0" r="4.6" fill="#2C3E50" fill-opacity="0.6" stroke="#2C3E50" stroke-opacity="0.6" stroke-width="1.4"/>
<circle cx="922.0" cy="1586.0" r="4.6" fill="#2C3E50" fill-opacity="0.6" stroke="#2C3E50" stroke-opacity="0.6" stroke-width="1.4"/>
<circle cx="855.0" cy="1617.6" r="4.6" fill="#2C3E50" fill-opacity="0.6" stroke="#2C3E50" stroke-opacity="0.6" stroke-width="1.4"/>
<circle cx="815.0" cy="1616.6" r="4.6" fill="#2C3E50" fill-opacity="0.6" stroke="#2C3E50" stroke-opacity="0.6" stroke-width="1.4"/>
<circle cx="798.0" cy="1599.4" r="4.6" fill="#2C3E50" fill-opacity="0.6" stroke="#2C3E50" stroke-opacity="0.6" stroke-width="1.4"/>
<circle cx="772.0" cy="1615.0" r="4.6" fill="#2C3E50" fill-opacity="0.6" stroke="#2C3E50" stroke-opacity="0.6" stroke-width="1.4"/>
<circle cx="774.0" cy="1622.0" r="4.6" fill="#2C3E50" fill-opacity="0.6" stroke="#2C3E50" stroke-opacity="0.6" stroke-width="1.4"/>
<circle cx="771.0" cy="1625.6" r="4.6" fill="#2C3E50" fill-opacity="0.6" stroke="#2C3E50" stroke-opacity="0.6" stroke-width="1.4"/>
<circle cx="775.0" cy="1632.0" r="4.6" fill="#2C3E50" fill-opacity="0.6" stroke="#2C3E50" stroke-opacity="0.6" stroke-width="1.4"/>
<circle cx="753.0" cy="1633.6" r="4.6" fill="#2C3E50" fill-opacity="0.6" stroke="#2C3E50" stroke-opacity="0.6" stroke-width="1.4"/>
<circle cx="722.0" cy="1626.6" r="4.6" fill="#2C3E50" fill-opacity="0.6" stroke="#2C3E50" stroke-opacity="0.6" stroke-width="1.4"/>
<circle cx="716.0" cy="1636.0" r="4.6" fill="#2C3E50" fill-opacity="0.6" stroke="#2C3E50" stroke-opacity="0.6" stroke-width="1.4"/>
<circle cx="708.0" cy="1633.6" r="4.6" fill="#2C3E50" fill-opacity="0.6" stroke="#2C3E50" stroke-opacity="0.6" stroke-width="1.4"/>
<circle cx="682.0" cy="1626.6" r="4.6" fill="#2C3E50" fill-opacity="0.6" stroke="#2C3E50" stroke-opacity="0.6" stroke-width="1.4"/>
<circle cx="684.0" cy="1628.0" r="4.6" fill="#2C3E50" fill-opacity="0.6" stroke="#2C3E50" stroke-opacity="0.6" stroke-width="1.4"/>
<circle cx="688.0" cy="1643.0" r="4.6" fill="#2C3E50" fill-opacity="0.6" stroke="#2C3E50" stroke-opacity="0.6" stroke-width="1.4"/>
<circle cx="680.0" cy="1646.0" r="4.6" fill="#2C3E50" fill-opacity="0.6" stroke="#2C3E50" stroke-opacity="0.6" stroke-width="1.4"/>
<circle cx="681.0" cy="1650.0" r="4.6" fill="#2C3E50" fill-opacity="0.6" stroke="#2C3E50" stroke-opacity="0.6" stroke-width="1.4"/>
<circle cx="668.0" cy="1635.6" r="4.6" fill="#2C3E50" fill-opacity="0.6" stroke="#2C3E50" stroke-opacity="0.6" stroke-width="1.4"/>
<circle cx="672.0" cy="1638.0" r="4.6" fill="#2C3E50" fill-opacity="0.6" stroke="#2C3E50" stroke-opacity="0.6" stroke-width="1.4"/>
<circle cx="642.0" cy="1634.4" r="4.6" fill="#2C3E50" fill-opacity="0.6" stroke="#2C3E50" stroke-opacity="0.6" stroke-width="1.4"/>
<circle cx="636.0" cy="1636.6" r="4.6" fill="#2C3E50" fill-opacity="0.6" stroke="#2C3E50" stroke-opacity="0.6" stroke-width="1.4"/>
<circle cx="627.0" cy="1640.6" r="4.6" fill="#2C3E50" fill-opacity="0.6" stroke="#2C3E50" stroke-opacity="0.6" stroke-width="1.4"/>
<circle cx="616.0" cy="1639.4" r="4.6" fill="#2C3E50" fill-opacity="0.6" stroke="#2C3E50" stroke-opacity="0.6" stroke-width="1.4"/>
<circle cx="607.0" cy="1644.4" r="4.6" fill="#2C3E50" fill-opacity="0.6" stroke="#2C3E50" stroke-opacity="0.6" stroke-width="1.4"/>
<circle cx="601.0" cy="1648.0" r="4.6" fill="#2C3E50" fill-opacity="0.6" stroke="#2C3E50" stroke-opacity="0.6" stroke-width="1.4"/>
<circle cx="589.0" cy="1646.6" r="4.6" fill="#2C3E50" fill-opacity="0.6" stroke="#2C3E50" stroke-opacity="0.6" stroke-width="1.4"/>
<circle cx="648.0" cy="1648.4" r="4.6" fill="#2C3E50" fill-opacity="0.6" stroke="#2C3E50" stroke-opacity="0.6" stroke-width="1.4"/>
<circle cx="651.0" cy="1653.0" r="4.6" fill="#2C3E50" fill-opacity="0.6" stroke="#2C3E50" stroke-opacity="0.6" stroke-width="1.4"/>
<circle cx="640.0" cy="1658.0" r="4.6" fill="#2C3E50" fill-opacity="0.6" stroke="#2C3E50" stroke-opacity="0.6" stroke-width="1.4"/>
<circle cx="649.0" cy="1666.0" r="4.6" fill="#2C3E50" fill-opacity="0.6" stroke="#2C3E50" stroke-opacity="0.6" stroke-width="1.4"/>
<circle cx="645.0" cy="1666.6" r="4.6" fill="#2C3E50" fill-opacity="0.6" stroke="#2C3E50" stroke-opacity="0.6" stroke-width="1.4"/>
<circle cx="634.0" cy="1674.6" r="4.6" fill="#2C3E50" fill-opacity="0.6" stroke="#2C3E50" stroke-opacity="0.6" stroke-width="1.4"/>
<circle cx="624.0" cy="1666.6" r="4.6" fill="#2C3E50" fill-opacity="0.6" stroke="#2C3E50" stroke-opacity="0.6" stroke-width="1.4"/>
<circle cx="613.0" cy="1674.6" r="4.6" fill="#2C3E50" fill-opacity="0.6" stroke="#2C3E50" stroke-opacity="0.6" stroke-width="1.4"/>
<circle cx="605.0" cy="1677.0" r="4.6" fill="#2C3E50" fill-opacity="0.6" stroke="#2C3E50" stroke-opacity="0.6" stroke-width="1.4"/>
<circle cx="607.0" cy="1688.6" r="4.6" fill="#2C3E50" fill-opacity="0.6" stroke="#2C3E50" stroke-opacity="0.6" stroke-width="1.4"/>
<circle cx="598.0" cy="1684.0" r="4.6" fill="#2C3E50" fill-opacity="0.6" stroke="#2C3E50" stroke-opacity="0.6" stroke-width="1.4"/>
<circle cx="599.0" cy="1672.0" r="4.6" fill="#2C3E50" fill-opacity="0.6" stroke="#2C3E50" stroke-opacity="0.6" stroke-width="1.4"/>
<circle cx="595.0" cy="1673.6" r="4.6" fill="#2C3E50" fill-opacity="0.6" stroke="#2C3E50" stroke-opacity="0.6" stroke-width="1.4"/>
<circle cx="565.0" cy="1687.0" r="4.6" fill="#2C3E50" fill-opacity="0.6" stroke="#2C3E50" stroke-opacity="0.6" stroke-width="1.4"/>
<circle cx="574.0" cy="1681.0" r="4.6" fill="#2C3E50" fill-opacity="0.6" stroke="#2C3E50" stroke-opacity="0.6" stroke-width="1.4"/>
<circle cx="583.0" cy="1677.0" r="4.6" fill="#2C3E50" fill-opacity="0.6" stroke="#2C3E50" stroke-opacity="0.6" stroke-width="1.4"/>
<circle cx="545.0" cy="1689.0" r="4.6" fill="#2C3E50" fill-opacity="0.6" stroke="#2C3E50" stroke-opacity="0.6" stroke-width="1.4"/>
<circle cx="540.0" cy="1696.0" r="4.6" fill="#2C3E50" fill-opacity="0.6" stroke="#2C3E50" stroke-opacity="0.6" stroke-width="1.4"/>
<circle cx="554.0" cy="1683.0" r="4.6" fill="#2C3E50" fill-opacity="0.6" stroke="#2C3E50" stroke-opacity="0.6" stroke-width="1.4"/>
<circle cx="560.0" cy="1664.0" r="4.6" fill="#2C3E50" fill-opacity="0.6" stroke="#2C3E50" stroke-opacity="0.6" stroke-width="1.4"/>
<circle cx="562.0" cy="1654.0" r="4.6" fill="#2C3E50" fill-opacity="0.6" stroke="#2C3E50" stroke-opacity="0.6" stroke-width="1.4"/>
<circle cx="567.0" cy="1655.0" r="4.6" fill="#2C3E50" fill-opacity="0.6" stroke="#2C3E50" stroke-opacity="0.6" stroke-width="1.4"/>
<circle cx="574.0" cy="1655.0" r="4.6" fill="#2C3E50" fill-opacity="0.6" stroke="#2C3E50" stroke-opacity="0.6" stroke-width="1.4"/>
<circle cx="586.0" cy="1657.0" r="4.6" fill="#2C3E50" fill-opacity="0.6" stroke="#2C3E50" stroke-opacity="0.6" stroke-width="1.4"/>
<circle cx="587.0" cy="1664.0" r="4.6" fill="#2C3E50" fill-opacity="0.6" stroke="#2C3E50" stroke-opacity="0.6" stroke-width="1.4"/>
<circle cx="600.0" cy="1656.0" r="4.6" fill="#2C3E50" fill-opacity="0.6" stroke="#2C3E50" stroke-opacity="0.6" stroke-width="1.4"/>
<circle cx="605.0" cy="1659.0" r="4.6" fill="#2C3E50" fill-opacity="0.6" stroke="#2C3E50" stroke-opacity="0.6" stroke-width="1.4"/>
<circle cx="620.0" cy="1648.0" r="4.6" fill="#2C3E50" fill-opacity="0.6" stroke="#2C3E50" stroke-opacity="0.6" stroke-width="1.4"/>
<circle cx="626.0" cy="1649.6" r="4.6" fill="#2C3E50" fill-opacity="0.6" stroke="#2C3E50" stroke-opacity="0.6" stroke-width="1.4"/>
<circle cx="632.0" cy="1649.6" r="4.6" fill="#2C3E50" fill-opacity="0.6" stroke="#2C3E50" stroke-opacity="0.6" stroke-width="1.4"/>
<circle cx="637.0" cy="1649.0" r="4.6" fill="#2C3E50" fill-opacity="0.6" stroke="#2C3E50" stroke-opacity="0.6" stroke-width="1.4"/>
<circle cx="629.0" cy="1659.0" r="4.6" fill="#2C3E50" fill-opacity="0.6" stroke="#2C3E50" stroke-opacity="0.6" stroke-width="1.4"/>
<circle cx="641.0" cy="1656.0" r="4.6" fill="#2C3E50" fill-opacity="0.6" stroke="#2C3E50" stroke-opacity="0.6" stroke-width="1.4"/>
<circle cx="478.2" cy="1701.2" r="4.6" fill="#2C3E50" fill-opacity="0.6" stroke="#2C3E50" stroke-opacity="0.6" stroke-width="1.4"/>
<circle cx="481.1" cy="1704.7" r="4.6" fill="#2C3E50" fill-opacity="0.6" stroke="#2C3E50" stroke-opacity="0.6" stroke-width="1.4"/>
<circle cx="412.8" cy="1725.4" r="4.6" fill="#2C3E50" fill-opacity="0.6" stroke="#2C3E50" stroke-opacity="0.6" stroke-width="1.4"/>
<circle cx="611.1" cy="1660.4" r="4.6" fill="#2C3E50" fill-opacity="0.6" stroke="#2C3E50" stroke-opacity="0.6" stroke-width="1.4"/>
<circle cx="603.8" cy="1663.6" r="4.6" fill="#2C3E50" fill-opacity="0.6" stroke="#2C3E50" stroke-opacity="0.6" stroke-width="1.4"/>
<circle cx="541.4" cy="1683.3" r="4.6" fill="#2C3E50" fill-opacity="0.6" stroke="#2C3E50" stroke-opacity="0.6" stroke-width="1.4"/>
<circle cx="341.3" cy="1741.9" r="4.6" fill="#2C3E50" fill-opacity="0.6" stroke="#2C3E50" stroke-opacity="0.6" stroke-width="1.4"/>
<circle cx="552.3" cy="1678.3" r="4.6" fill="#2C3E50" fill-opacity="0.6" stroke="#2C3E50" stroke-opacity="0.6" stroke-width="1.4"/>
<circle cx="338.8" cy="1756.6" r="4.6" fill="#2C3E50" fill-opacity="0.6" stroke="#2C3E50" stroke-opacity="0.6" stroke-width="1.4"/>
<circle cx="416.7" cy="1725.6" r="4.6" fill="#2C3E50" fill-opacity="0.6" stroke="#2C3E50" stroke-opacity="0.6" stroke-width="1.4"/>
<circle cx="532.8" cy="1687.3" r="4.6" fill="#2C3E50" fill-opacity="0.6" stroke="#2C3E50" stroke-opacity="0.6" stroke-width="1.4"/>
<circle cx="553.7" cy="1684.0" r="4.6" fill="#2C3E50" fill-opacity="0.6" stroke="#2C3E50" stroke-opacity="0.6" stroke-width="1.4"/>
<circle cx="533.1" cy="1684.8" r="4.6" fill="#2C3E50" fill-opacity="0.6" stroke="#2C3E50" stroke-opacity="0.6" stroke-width="1.4"/>
<circle cx="438.9" cy="1706.9" r="4.6" fill="#2C3E50" fill-opacity="0.6" stroke="#2C3E50" stroke-opacity="0.6" stroke-width="1.4"/>
<circle cx="557.2" cy="1673.0" r="4.6" fill="#2C3E50" fill-opacity="0.6" stroke="#2C3E50" stroke-opacity="0.6" stroke-width="1.4"/>
<circle cx="442.9" cy="1718.9" r="4.6" fill="#2C3E50" fill-opacity="0.6" stroke="#2C3E50" stroke-opacity="0.6" stroke-width="1.4"/>
<circle cx="469.7" cy="1707.2" r="4.6" fill="#2C3E50" fill-opacity="0.6" stroke="#2C3E50" stroke-opacity="0.6" stroke-width="1.4"/>
<circle cx="564.5" cy="1675.8" r="4.6" fill="#2C3E50" fill-opacity="0.6" stroke="#2C3E50" stroke-opacity="0.6" stroke-width="1.4"/>
<circle cx="459.7" cy="1714.9" r="4.6" fill="#2C3E50" fill-opacity="0.6" stroke="#2C3E50" stroke-opacity="0.6" stroke-width="1.4"/>
<circle cx="452.5" cy="1705.3" r="4.6" fill="#2C3E50" fill-opacity="0.6" stroke="#2C3E50" stroke-opacity="0.6" stroke-width="1.4"/>
<circle cx="424.6" cy="1719.3" r="4.6" fill="#2C3E50" fill-opacity="0.6" stroke="#2C3E50" stroke-opacity="0.6" stroke-width="1.4"/>
<circle cx="544.5" cy="1691.4" r="4.6" fill="#2C3E50" fill-opacity="0.6" stroke="#2C3E50" stroke-opacity="0.6" stroke-width="1.4"/>
<circle cx="507.8" cy="1687.7" r="4.6" fill="#2C3E50" fill-opacity="0.6" stroke="#2C3E50" stroke-opacity="0.6" stroke-width="1.4"/>
<circle cx="307.5" cy="1758.7" r="4.6" fill="#2C3E50" fill-opacity="0.6" stroke="#2C3E50" stroke-opacity="0.6" stroke-width="1.4"/>
<circle cx="492.8" cy="1703.8" r="4.6" fill="#2C3E50" fill-opacity="0.6" stroke="#2C3E50" stroke-opacity="0.6" stroke-width="1.4"/>
<circle cx="551.4" cy="1681.6" r="4.6" fill="#2C3E50" fill-opacity="0.6" stroke="#2C3E50" stroke-opacity="0.6" stroke-width="1.4"/>
<circle cx="360.8" cy="1735.9" r="4.6" fill="#2C3E50" fill-opacity="0.6" stroke="#2C3E50" stroke-opacity="0.6" stroke-width="1.4"/>
<circle cx="568.1" cy="1670.9" r="4.6" fill="#2C3E50" fill-opacity="0.6" stroke="#2C3E50" stroke-opacity="0.6" stroke-width="1.4"/>
<circle cx="643.0" cy="1650.8" r="4.6" fill="#2C3E50" fill-opacity="0.6" stroke="#2C3E50" stroke-opacity="0.6" stroke-width="1.4"/>
<circle cx="514.7" cy="1699.6" r="4.6" fill="#2C3E50" fill-opacity="0.6" stroke="#2C3E50" stroke-opacity="0.6" stroke-width="1.4"/>
<circle cx="562.9" cy="1680.9" r="4.6" fill="#2C3E50" fill-opacity="0.6" stroke="#2C3E50" stroke-opacity="0.6" stroke-width="1.4"/>
<circle cx="459.1" cy="1716.7" r="4.6" fill="#2C3E50" fill-opacity="0.6" stroke="#2C3E50" stroke-opacity="0.6" stroke-width="1.4"/>
<circle cx="409.1" cy="1728.3" r="4.6" fill="#2C3E50" fill-opacity="0.6" stroke="#2C3E50" stroke-opacity="0.6" stroke-width="1.4"/>
<circle cx="628.3" cy="1668.3" r="4.6" fill="#2C3E50" fill-opacity="0.6" stroke="#2C3E50" stroke-opacity="0.6" stroke-width="1.4"/>
<circle cx="361.5" cy="1738.9" r="4.6" fill="#2C3E50" fill-opacity="0.6" stroke="#2C3E50" stroke-opacity="0.6" stroke-width="1.4"/>
<circle cx="643.3" cy="1649.6" r="4.6" fill="#2C3E50" fill-opacity="0.6" stroke="#2C3E50" stroke-opacity="0.6" stroke-width="1.4"/>
<circle cx="318.6" cy="1767.1" r="4.6" fill="#2C3E50" fill-opacity="0.6" stroke="#2C3E50" stroke-opacity="0.6" stroke-width="1.4"/>
<circle cx="537.8" cy="1689.4" r="4.6" fill="#2C3E50" fill-opacity="0.6" stroke="#2C3E50" stroke-opacity="0.6" stroke-width="1.4"/>
<circle cx="394.3" cy="1724.7" r="4.6" fill="#2C3E50" fill-opacity="0.6" stroke="#2C3E50" stroke-opacity="0.6" stroke-width="1.4"/>
<circle cx="610.1" cy="1662.1" r="4.6" fill="#2C3E50" fill-opacity="0.6" stroke="#2C3E50" stroke-opacity="0.6" stroke-width="1.4"/>
<circle cx="527.0" cy="1686.5" r="4.6" fill="#2C3E50" fill-opacity="0.6" stroke="#2C3E50" stroke-opacity="0.6" stroke-width="1.4"/>
<circle cx="657.9" cy="1644.8" r="4.6" fill="#2C3E50" fill-opacity="0.6" stroke="#2C3E50" stroke-opacity="0.6" stroke-width="1.4"/>
<circle cx="553.5" cy="1677.6" r="4.6" fill="#2C3E50" fill-opacity="0.6" stroke="#2C3E50" stroke-opacity="0.6" stroke-width="1.4"/>
<circle cx="350.8" cy="1736.6" r="4.6" fill="#2C3E50" fill-opacity="0.6" stroke="#2C3E50" stroke-opacity="0.6" stroke-width="1.4"/>
<circle cx="595.9" cy="1664.6" r="4.6" fill="#2C3E50" fill-opacity="0.6" stroke="#2C3E50" stroke-opacity="0.6" stroke-width="1.4"/>
<circle cx="311.4" cy="1759.2" r="4.6" fill="#2C3E50" fill-opacity="0.6" stroke="#2C3E50" stroke-opacity="0.6" stroke-width="1.4"/>
<circle cx="584.9" cy="1680.6" r="4.6" fill="#2C3E50" fill-opacity="0.6" stroke="#2C3E50" stroke-opacity="0.6" stroke-width="1.4"/>
<circle cx="485.2" cy="1696.3" r="4.6" fill="#2C3E50" fill-opacity="0.6" stroke="#2C3E50" stroke-opacity="0.6" stroke-width="1.4"/>
<circle cx="375.8" cy="1727.1" r="4.6" fill="#2C3E50" fill-opacity="0.6" stroke="#2C3E50" stroke-opacity="0.6" stroke-width="1.4"/>
<circle cx="556.7" cy="1680.4" r="4.6" fill="#2C3E50" fill-opacity="0.6" stroke="#2C3E50" stroke-opacity="0.6" stroke-width="1.4"/>
<circle cx="534.7" cy="1682.9" r="4.6" fill="#2C3E50" fill-opacity="0.6" stroke="#2C3E50" stroke-opacity="0.6" stroke-width="1.4"/>
<circle cx="514.8" cy="1686.4" r="4.6" fill="#2C3E50" fill-opacity="0.6" stroke="#2C3E50" stroke-opacity="0.6" stroke-width="1.4"/>
<circle cx="438.8" cy="1718.4" r="4.6" fill="#2C3E50" fill-opacity="0.6" stroke="#2C3E50" stroke-opacity="0.6" stroke-width="1.4"/>
<circle cx="604.3" cy="1664.7" r="4.6" fill="#2C3E50" fill-opacity="0.6" stroke="#2C3E50" stroke-opacity="0.6" stroke-width="1.4"/>
<circle cx="417.6" cy="1717.7" r="4.6" fill="#2C3E50" fill-opacity="0.6" stroke="#2C3E50" stroke-opacity="0.6" stroke-width="1.4"/>
<circle cx="645.4" cy="1654.4" r="4.6" fill="#2C3E50" fill-opacity="0.6" stroke="#2C3E50" stroke-opacity="0.6" stroke-width="1.4"/>
<circle cx="369.1" cy="1738.6" r="4.6" fill="#2C3E50" fill-opacity="0.6" stroke="#2C3E50" stroke-opacity="0.6" stroke-width="1.4"/>
<circle cx="488.6" cy="1702.3" r="4.6" fill="#2C3E50" fill-opacity="0.6" stroke="#2C3E50" stroke-opacity="0.6" stroke-width="1.4"/>
<circle cx="639.5" cy="1659.4" r="4.6" fill="#2C3E50" fill-opacity="0.6" stroke="#2C3E50" stroke-opacity="0.6" stroke-width="1.4"/>
<circle cx="625.5" cy="1665.0" r="4.6" fill="#2C3E50" fill-opacity="0.6" stroke="#2C3E50" stroke-opacity="0.6" stroke-width="1.4"/>
<circle cx="426.7" cy="1716.6" r="4.6" fill="#2C3E50" fill-opacity="0.6" stroke="#2C3E50" stroke-opacity="0.6" stroke-width="1.4"/>
<circle cx="612.7" cy="1657.6" r="4.6" fill="#2C3E50" fill-opacity="0.6" stroke="#2C3E50" stroke-opacity="0.6" stroke-width="1.4"/>
<circle cx="536.6" cy="1685.0" r="4.6" fill="#2C3E50" fill-opacity="0.6" stroke="#2C3E50" stroke-opacity="0.6" stroke-width="1.4"/>
<circle cx="517.9" cy="1688.5" r="4.6" fill="#2C3E50" fill-opacity="0.6" stroke="#2C3E50" stroke-opacity="0.6" stroke-width="1.4"/>
<circle cx="486.0" cy="1700.0" r="4.6" fill="#2C3E50" fill-opacity="0.6" stroke="#2C3E50" stroke-opacity="0.6" stroke-width="1.4"/>
<circle cx="558.7" cy="1678.9" r="4.6" fill="#2C3E50" fill-opacity="0.6" stroke="#2C3E50" stroke-opacity="0.6" stroke-width="1.4"/>
<circle cx="577.3" cy="1670.1" r="4.6" fill="#2C3E50" fill-opacity="0.6" stroke="#2C3E50" stroke-opacity="0.6" stroke-width="1.4"/>
<circle cx="684.4" cy="1638.2" r="4.6" fill="#2C3E50" fill-opacity="0.6" stroke="#2C3E50" stroke-opacity="0.6" stroke-width="1.4"/>
<circle cx="461.6" cy="1711.1" r="4.6" fill="#2C3E50" fill-opacity="0.6" stroke="#2C3E50" stroke-opacity="0.6" stroke-width="1.4"/>
<circle cx="501.8" cy="1691.6" r="4.6" fill="#2C3E50" fill-opacity="0.6" stroke="#2C3E50" stroke-opacity="0.6" stroke-width="1.4"/>
<circle cx="470.4" cy="1704.3" r="4.6" fill="#2C3E50" fill-opacity="0.6" stroke="#2C3E50" stroke-opacity="0.6" stroke-width="1.4"/>
<circle cx="681.5" cy="1654.6" r="4.6" fill="#2C3E50" fill-opacity="0.6" stroke="#2C3E50" stroke-opacity="0.6" stroke-width="1.4"/>
<circle cx="393.9" cy="1728.8" r="4.6" fill="#2C3E50" fill-opacity="0.6" stroke="#2C3E50" stroke-opacity="0.6" stroke-width="1.4"/>
<circle cx="541.8" cy="1682.9" r="4.6" fill="#2C3E50" fill-opacity="0.6" stroke="#2C3E50" stroke-opacity="0.6" stroke-width="1.4"/>
<circle cx="461.2" cy="1705.7" r="4.6" fill="#2C3E50" fill-opacity="0.6" stroke="#2C3E50" stroke-opacity="0.6" stroke-width="1.4"/>
<circle cx="530.5" cy="1690.5" r="4.6" fill="#2C3E50" fill-opacity="0.6" stroke="#2C3E50" stroke-opacity="0.6" stroke-width="1.4"/>
<circle cx="684.4" cy="1638.0" r="4.6" fill="#2C3E50" fill-opacity="0.6" stroke="#2C3E50" stroke-opacity="0.6" stroke-width="1.4"/>
<circle cx="449.3" cy="1713.5" r="4.6" fill="#2C3E50" fill-opacity="0.6" stroke="#2C3E50" stroke-opacity="0.6" stroke-width="1.4"/>
<circle cx="481.2" cy="1703.4" r="4.6" fill="#2C3E50" fill-opacity="0.6" stroke="#2C3E50" stroke-opacity="0.6" stroke-width="1.4"/>
<circle cx="295.9" cy="1763.2" r="4.6" fill="#2C3E50" fill-opacity="0.6" stroke="#2C3E50" stroke-opacity="0.6" stroke-width="1.4"/>
<circle cx="601.1" cy="1672.1" r="4.6" fill="#2C3E50" fill-opacity="0.6" stroke="#2C3E50" stroke-opacity="0.6" stroke-width="1.4"/>
<circle cx="496.6" cy="1693.1" r="4.6" fill="#2C3E50" fill-opacity="0.6" stroke="#2C3E50" stroke-opacity="0.6" stroke-width="1.4"/>
<circle cx="586.3" cy="1662.4" r="4.6" fill="#2C3E50" fill-opacity="0.6" stroke="#2C3E50" stroke-opacity="0.6" stroke-width="1.4"/>
<circle cx="337.9" cy="1749.4" r="4.6" fill="#2C3E50" fill-opacity="0.6" stroke="#2C3E50" stroke-opacity="0.6" stroke-width="1.4"/>
<circle cx="470.0" cy="1703.1" r="4.6" fill="#2C3E50" fill-opacity="0.6" stroke="#2C3E50" stroke-opacity="0.6" stroke-width="1.4"/>
<circle cx="609.1" cy="1677.7" r="4.6" fill="#2C3E50" fill-opacity="0.6" stroke="#2C3E50" stroke-opacity="0.6" stroke-width="1.4"/>
<circle cx="608.8" cy="1671.2" r="4.6" fill="#2C3E50" fill-opacity="0.6" stroke="#2C3E50" stroke-opacity="0.6" stroke-width="1.4"/>
<circle cx="569.5" cy="1683.6" r="4.6" fill="#2C3E50" fill-opacity="0.6" stroke="#2C3E50" stroke-opacity="0.6" stroke-width="1.4"/>
<circle cx="520.2" cy="1684.5" r="4.6" fill="#2C3E50" fill-opacity="0.6" stroke="#2C3E50" stroke-opacity="0.6" stroke-width="1.4"/>
<circle cx="488.6" cy="1699.7" r="4.6" fill="#2C3E50" fill-opacity="0.6" stroke="#2C3E50" stroke-opacity="0.6" stroke-width="1.4"/>
<circle cx="580.5" cy="1671.4" r="4.6" fill="#2C3E50" fill-opacity="0.6" stroke="#2C3E50" stroke-opacity="0.6" stroke-width="1.4"/>
<circle cx="494.5" cy="1690.6" r="4.6" fill="#2C3E50" fill-opacity="0.6" stroke="#2C3E50" stroke-opacity="0.6" stroke-width="1.4"/>
<circle cx="604.9" cy="1666.2" r="4.6" fill="#2C3E50" fill-opacity="0.6" stroke="#2C3E50" stroke-opacity="0.6" stroke-width="1.4"/>
<circle cx="684.4" cy="1646.1" r="4.6" fill="#2C3E50" fill-opacity="0.6" stroke="#2C3E50" stroke-opacity="0.6" stroke-width="1.4"/>
<circle cx="591.9" cy="1670.1" r="4.6" fill="#2C3E50" fill-opacity="0.6" stroke="#2C3E50" stroke-opacity="0.6" stroke-width="1.4"/>
<circle cx="516.0" cy="1688.4" r="4.6" fill="#2C3E50" fill-opacity="0.6" stroke="#2C3E50" stroke-opacity="0.6" stroke-width="1.4"/>
<circle cx="524.7" cy="1686.1" r="4.6" fill="#2C3E50" fill-opacity="0.6" stroke="#2C3E50" stroke-opacity="0.6" stroke-width="1.4"/>
<circle cx="354.8" cy="1750.4" r="4.6" fill="#2C3E50" fill-opacity="0.6" stroke="#2C3E50" stroke-opacity="0.6" stroke-width="1.4"/>
<circle cx="562.8" cy="1682.9" r="4.6" fill="#2C3E50" fill-opacity="0.6" stroke="#2C3E50" stroke-opacity="0.6" stroke-width="1.4"/>
<circle cx="403.4" cy="1735.1" r="4.6" fill="#2C3E50" fill-opacity="0.6" stroke="#2C3E50" stroke-opacity="0.6" stroke-width="1.4"/>
<circle cx="626.1" cy="1654.0" r="4.6" fill="#2C3E50" fill-opacity="0.6" stroke="#2C3E50" stroke-opacity="0.6" stroke-width="1.4"/>
<circle cx="646.2" cy="1656.8" r="4.6" fill="#2C3E50" fill-opacity="0.6" stroke="#2C3E50" stroke-opacity="0.6" stroke-width="1.4"/>
<circle cx="503.2" cy="1702.3" r="4.6" fill="#2C3E50" fill-opacity="0.6" stroke="#2C3E50" stroke-opacity="0.6" stroke-width="1.4"/>
<circle cx="577.5" cy="1664.6" r="4.6" fill="#2C3E50" fill-opacity="0.6" stroke="#2C3E50" stroke-opacity="0.6" stroke-width="1.4"/>
<circle cx="416.6" cy="1714.7" r="4.6" fill="#2C3E50" fill-opacity="0.6" stroke="#2C3E50" stroke-opacity="0.6" stroke-width="1.4"/>
<circle cx="599.1" cy="1667.4" r="4.6" fill="#2C3E50" fill-opacity="0.6" stroke="#2C3E50" stroke-opacity="0.6" stroke-width="1.4"/>
<circle cx="311.6" cy="1748.1" r="4.6" fill="#2C3E50" fill-opacity="0.6" stroke="#2C3E50" stroke-opacity="0.6" stroke-width="1.4"/>
<circle cx="493.8" cy="1702.4" r="4.6" fill="#2C3E50" fill-opacity="0.6" stroke="#2C3E50" stroke-opacity="0.6" stroke-width="1.4"/>
<circle cx="541.9" cy="1682.0" r="4.6" fill="#2C3E50" fill-opacity="0.6" stroke="#2C3E50" stroke-opacity="0.6" stroke-width="1.4"/>
<circle cx="648.6" cy="1656.5" r="4.6" fill="#2C3E50" fill-opacity="0.6" stroke="#2C3E50" stroke-opacity="0.6" stroke-width="1.4"/>
<circle cx="613.5" cy="1653.9" r="4.6" fill="#2C3E50" fill-opacity="0.6" stroke="#2C3E50" stroke-opacity="0.6" stroke-width="1.4"/>
<circle cx="644.1" cy="1653.4" r="4.6" fill="#2C3E50" fill-opacity="0.6" stroke="#2C3E50" stroke-opacity="0.6" stroke-width="1.4"/>
<circle cx="430.8" cy="1713.2" r="4.6" fill="#2C3E50" fill-opacity="0.6" stroke="#2C3E50" stroke-opacity="0.6" stroke-width="1.4"/>
<circle cx="514.3" cy="1692.1" r="4.6" fill="#2C3E50" fill-opacity="0.6" stroke="#2C3E50" stroke-opacity="0.6" stroke-width="1.4"/>
<circle cx="641.4" cy="1654.7" r="4.6" fill="#2C3E50" fill-opacity="0.6" stroke="#2C3E50" stroke-opacity="0.6" stroke-width="1.4"/>
<circle cx="295.9" cy="1762.6" r="4.6" fill="#2C3E50" fill-opacity="0.6" stroke="#2C3E50" stroke-opacity="0.6" stroke-width="1.4"/>
<circle cx="323.0" cy="1747.7" r="4.6" fill="#2C3E50" fill-opacity="0.6" stroke="#2C3E50" stroke-opacity="0.6" stroke-width="1.4"/>
<circle cx="533.9" cy="1689.9" r="4.6" fill="#2C3E50" fill-opacity="0.6" stroke="#2C3E50" stroke-opacity="0.6" stroke-width="1.4"/>
<circle cx="502.2" cy="1692.0" r="4.6" fill="#2C3E50" fill-opacity="0.6" stroke="#2C3E50" stroke-opacity="0.6" stroke-width="1.4"/>
<circle cx="510.8" cy="1686.7" r="4.6" fill="#2C3E50" fill-opacity="0.6" stroke="#2C3E50" stroke-opacity="0.6" stroke-width="1.4"/>
<circle cx="497.1" cy="1692.5" r="4.6" fill="#2C3E50" fill-opacity="0.6" stroke="#2C3E50" stroke-opacity="0.6" stroke-width="1.4"/>
<circle cx="648.0" cy="1642.6" r="4.6" fill="#2C3E50" fill-opacity="0.6" stroke="#2C3E50" stroke-opacity="0.6" stroke-width="1.4"/>
<circle cx="437.8" cy="1711.7" r="4.6" fill="#2C3E50" fill-opacity="0.6" stroke="#2C3E50" stroke-opacity="0.6" stroke-width="1.4"/>
<circle cx="320.9" cy="1758.6" r="4.6" fill="#2C3E50" fill-opacity="0.6" stroke="#2C3E50" stroke-opacity="0.6" stroke-width="1.4"/>
<circle cx="312.5" cy="1749.7" r="4.6" fill="#2C3E50" fill-opacity="0.6" stroke="#2C3E50" stroke-opacity="0.6" stroke-width="1.4"/>
<circle cx="383.4" cy="1733.4" r="4.6" fill="#2C3E50" fill-opacity="0.6" stroke="#2C3E50" stroke-opacity="0.6" stroke-width="1.4"/>
<circle cx="484.4" cy="1702.2" r="4.6" fill="#2C3E50" fill-opacity="0.6" stroke="#2C3E50" stroke-opacity="0.6" stroke-width="1.4"/>
<circle cx="445.6" cy="1712.8" r="4.6" fill="#2C3E50" fill-opacity="0.6" stroke="#2C3E50" stroke-opacity="0.6" stroke-width="1.4"/>
<circle cx="677.1" cy="1642.0" r="4.6" fill="#2C3E50" fill-opacity="0.6" stroke="#2C3E50" stroke-opacity="0.6" stroke-width="1.4"/>
<circle cx="554.7" cy="1674.8" r="4.6" fill="#2C3E50" fill-opacity="0.6" stroke="#2C3E50" stroke-opacity="0.6" stroke-width="1.4"/>
<circle cx="483.9" cy="1709.0" r="4.6" fill="#2C3E50" fill-opacity="0.6" stroke="#2C3E50" stroke-opacity="0.6" stroke-width="1.4"/>
<circle cx="449.2" cy="1707.2" r="4.6" fill="#2C3E50" fill-opacity="0.6" stroke="#2C3E50" stroke-opacity="0.6" stroke-width="1.4"/>
<circle cx="343.2" cy="1749.1" r="4.6" fill="#2C3E50" fill-opacity="0.6" stroke="#2C3E50" stroke-opacity="0.6" stroke-width="1.4"/>
<circle cx="600.9" cy="1661.6" r="4.6" fill="#2C3E50" fill-opacity="0.6" stroke="#2C3E50" stroke-opacity="0.6" stroke-width="1.4"/>
<circle cx="503.8" cy="1691.7" r="4.6" fill="#2C3E50" fill-opacity="0.6" stroke="#2C3E50" stroke-opacity="0.6" stroke-width="1.4"/>
<circle cx="519.2" cy="1697.6" r="4.6" fill="#2C3E50" fill-opacity="0.6" stroke="#2C3E50" stroke-opacity="0.6" stroke-width="1.4"/>
<circle cx="351.2" cy="1746.8" r="4.6" fill="#2C3E50" fill-opacity="0.6" stroke="#2C3E50" stroke-opacity="0.6" stroke-width="1.4"/>
<circle cx="592.7" cy="1671.4" r="4.6" fill="#2C3E50" fill-opacity="0.6" stroke="#2C3E50" stroke-opacity="0.6" stroke-width="1.4"/>
<circle cx="415.5" cy="1727.6" r="4.6" fill="#2C3E50" fill-opacity="0.6" stroke="#2C3E50" stroke-opacity="0.6" stroke-width="1.4"/>
<circle cx="354.3" cy="1743.0" r="4.6" fill="#2C3E50" fill-opacity="0.6" stroke="#2C3E50" stroke-opacity="0.6" stroke-width="1.4"/>
<circle cx="388.5" cy="1729.8" r="4.6" fill="#2C3E50" fill-opacity="0.6" stroke="#2C3E50" stroke-opacity="0.6" stroke-width="1.4"/>
<circle cx="295.9" cy="1758.8" r="4.6" fill="#2C3E50" fill-opacity="0.6" stroke="#2C3E50" stroke-opacity="0.6" stroke-width="1.4"/>
<circle cx="440.8" cy="1726.0" r="4.6" fill="#2C3E50" fill-opacity="0.6" stroke="#2C3E50" stroke-opacity="0.6" stroke-width="1.4"/>
<circle cx="573.5" cy="1675.8" r="4.6" fill="#2C3E50" fill-opacity="0.6" stroke="#2C3E50" stroke-opacity="0.6" stroke-width="1.4"/>
<circle cx="295.9" cy="1765.3" r="4.6" fill="#2C3E50" fill-opacity="0.6" stroke="#2C3E50" stroke-opacity="0.6" stroke-width="1.4"/>
<circle cx="531.4" cy="1689.9" r="4.6" fill="#2C3E50" fill-opacity="0.6" stroke="#2C3E50" stroke-opacity="0.6" stroke-width="1.4"/>
<circle cx="578.9" cy="1668.7" r="4.6" fill="#2C3E50" fill-opacity="0.6" stroke="#2C3E50" stroke-opacity="0.6" stroke-width="1.4"/>
<circle cx="567.8" cy="1674.4" r="4.6" fill="#2C3E50" fill-opacity="0.6" stroke="#2C3E50" stroke-opacity="0.6" stroke-width="1.4"/>
<circle cx="632.6" cy="1652.4" r="4.6" fill="#2C3E50" fill-opacity="0.6" stroke="#2C3E50" stroke-opacity="0.6" stroke-width="1.4"/>
<circle cx="546.9" cy="1693.8" r="4.6" fill="#2C3E50" fill-opacity="0.6" stroke="#2C3E50" stroke-opacity="0.6" stroke-width="1.4"/>
<circle cx="590.2" cy="1662.1" r="4.6" fill="#2C3E50" fill-opacity="0.6" stroke="#2C3E50" stroke-opacity="0.6" stroke-width="1.4"/>
<circle cx="474.3" cy="1707.7" r="4.6" fill="#2C3E50" fill-opacity="0.6" stroke="#2C3E50" stroke-opacity="0.6" stroke-width="1.4"/>
<circle cx="684.4" cy="1649.4" r="4.6" fill="#2C3E50" fill-opacity="0.6" stroke="#2C3E50" stroke-opacity="0.6" stroke-width="1.4"/>
<circle cx="548.6" cy="1669.0" r="4.6" fill="#2C3E50" fill-opacity="0.6" stroke="#2C3E50" stroke-opacity="0.6" stroke-width="1.4"/>
<circle cx="413.0" cy="1720.5" r="4.6" fill="#2C3E50" fill-opacity="0.6" stroke="#2C3E50" stroke-opacity="0.6" stroke-width="1.4"/>
<circle cx="684.4" cy="1640.6" r="4.6" fill="#2C3E50" fill-opacity="0.6" stroke="#2C3E50" stroke-opacity="0.6" stroke-width="1.4"/>
<circle cx="557.6" cy="1674.4" r="4.6" fill="#2C3E50" fill-opacity="0.6" stroke="#2C3E50" stroke-opacity="0.6" stroke-width="1.4"/>
<circle cx="415.1" cy="1724.0" r="4.6" fill="#2C3E50" fill-opacity="0.6" stroke="#2C3E50" stroke-opacity="0.6" stroke-width="1.4"/>
<line x1="88.7" y1="1833.8" x2="969.3" y2="1541.0" stroke="#E74C3C" stroke-width="5" stroke-dasharray="20.6 20.6" stroke-dashoffset="-17.1"/>
<polygon points="161.2,1798.3 503.1,1694.7 921.4,1561.9 921.4,1570.9 503.1,1697.7 161.2,1806.3" fill="#999" fill-opacity="0.4"/>
<line x1="161.2" y1="1802.3" x2="921.4" y2="1566.4" stroke="#3498DB" stroke-width="5"/>
</g>
<rect x="1077.0" y="1565" width="838.0" height="1" fill="#EBEBEB" />
<rect x="1077.0" y="1661" width="838.0" height="1" fill="#EBEBEB" />
<rect x="1077.0" y="1758" width="838.0" height="1" fill="#EBEBEB" />
<rect x="1225" y="1549.0" width="1" height="270.0" fill="#EBEBEB" />
<rect x="1406" y="1549.0" width="1" height="270.0" fill="#EBEBEB" />
<rect x="1587" y="1549.0" width="1" height="270.0" fill="#EBEBEB" />
<rect x="1768" y="1549.0" width="1" height="270.0" fill="#EBEBEB" />
<rect x="1077.0" y="1612" width="838.0" height="2" fill="#EBEBEB" />
<rect x="1077.0" y="1709" width="838.0" height="2" fill="#EBEBEB" />
<rect x="1077.0" y="1806" width="838.0" height="2" fill="#EBEBEB" />
<rect x="1133" y="1549.0" width="2" height="270.0" fill="#EBEBEB" />
<rect x="1314" y="1549.0" width="2" height="270.0" fill="#EBEBEB" />
<rect x="1495" y="1549.0" width="2" height="270.0" fill="#EBEBEB" />
<rect x="1676" y="1549.0" width="2" height="270.0" fill="#EBEBEB" />
<rect x="1857" y="1549.0" width="2" height="270.0" fill="#EBEBEB" />
<text x="1077.0" y="1485.0" font-size="35" text-anchor="start" fill="#000" letter-spacing="-0.348">Classification Task: Predicted Probabilities</text>
<text x="1077.0" y="1528.0" font-size="29" text-anchor="start" fill="#000" letter-spacing="-0.100">Accuracy = 98 %</text>
<text x="1064.0" y="1816.7" font-size="22.8" text-anchor="end" fill="#4D4D4D">0</text>
<text x="1064.0" y="1719.9" font-size="22.8" text-anchor="end" fill="#4D4D4D">50</text>
<text x="1064.0" y="1623.1" font-size="22.8" text-anchor="end" fill="#4D4D4D">100</text>
<text x="1133.8" y="1850.4" font-size="22.8" text-anchor="middle" fill="#4D4D4D">0.00</text>
<text x="1315.0" y="1850.4" font-size="22.8" text-anchor="middle" fill="#4D4D4D">0.25</text>
<text x="1496.2" y="1850.4" font-size="22.8" text-anchor="middle" fill="#4D4D4D">0.50</text>
<text x="1677.4" y="1850.4" font-size="22.8" text-anchor="middle" fill="#4D4D4D">0.75</text>
<text x="1858.6" y="1850.4" font-size="22.8" text-anchor="middle" fill="#4D4D4D">1.00</text>
<text x="1496.0" y="1884.0" font-size="29" text-anchor="middle" fill="#000">Predicted Probability</text>
<text x="1013.7" y="1684.0" font-size="29" text-anchor="middle" fill="#000" transform="rotate(-90 1013.7 1684.0)">Count</text>
<rect x="1115" y="1561" width="38" height="246" fill="#E41A1C" fill-opacity="0.7"/>
<rect x="1153" y="1785" width="38" height="22" fill="#E41A1C" fill-opacity="0.7"/>
<rect x="1191" y="1793" width="38" height="14" fill="#E41A1C" fill-opacity="0.7"/>
<rect x="1267" y="1799" width="39" height="8" fill="#E41A1C" fill-opacity="0.7"/>
<rect x="1306" y="1801" width="38" height="6" fill="#E41A1C" fill-opacity="0.7"/>
<rect x="1344" y="1805" width="38" height="2" fill="#E41A1C" fill-opacity="0.7"/>
<rect x="1382" y="1805" width="38" height="2" fill="#E41A1C" fill-opacity="0.7"/>
<rect x="1420" y="1805" width="38" height="2" fill="#E41A1C" fill-opacity="0.7"/>
<rect x="1458" y="1803" width="38" height="4" fill="#E41A1C" fill-opacity="0.7"/>
<rect x="1496" y="1803" width="38" height="4" fill="#E41A1C" fill-opacity="0.7"/>
<rect x="1572" y="1805" width="38" height="2" fill="#E41A1C" fill-opacity="0.7"/>
<rect x="1306" y="1805" width="38" height="2" fill="#377EB8" fill-opacity="0.7"/>
<rect x="1420" y="1805" width="38" height="2" fill="#377EB8" fill-opacity="0.7"/>
<rect x="1458" y="1805" width="38" height="2" fill="#377EB8" fill-opacity="0.7"/>
<rect x="1496" y="1805" width="38" height="2" fill="#377EB8" fill-opacity="0.7"/>
<rect x="1534" y="1799" width="38" height="8" fill="#377EB8" fill-opacity="0.7"/>
<rect x="1572" y="1805" width="38" height="2" fill="#377EB8" fill-opacity="0.7"/>
<rect x="1610" y="1795" width="38" height="12" fill="#377EB8" fill-opacity="0.7"/>
<rect x="1648" y="1805" width="38" height="2" fill="#377EB8" fill-opacity="0.7"/>
<rect x="1686" y="1803" width="39" height="4" fill="#377EB8" fill-opacity="0.7"/>
<rect x="1725" y="1803" width="38" height="4" fill="#377EB8" fill-opacity="0.7"/>
<rect x="1763" y="1791" width="38" height="16" fill="#377EB8" fill-opacity="0.7"/>
<rect x="1801" y="1782" width="38" height="25" fill="#377EB8" fill-opacity="0.7"/>
<rect x="1839" y="1615" width="38" height="192" fill="#377EB8" fill-opacity="0.7"/>
<line x1="1496" y1="1819" x2="1496" y2="1549" stroke="#FF0000" stroke-width="2" stroke-dasharray="8 8" shape-rendering="crispEdges"/>
<text x="2028.0" y="1641.6" font-size="29" text-anchor="start" fill="#000" letter-spacing="0.074">Actual Class</text>
<rect x="2030" y="1661" width="42" height="42" fill="#E41A1C" fill-opacity="0.7"/>
<rect x="2030" y="1707" width="42" height="42" fill="#377EB8" fill-opacity="0.7"/>
<text x="2089.5" y="1691.7" font-size="22.8" text-anchor="start" fill="#000">Class 0</text>
<text x="2089.5" y="1737.7" font-size="22.8" text-anchor="start" fill="#000">Class 1</text>
</svg>
</body></html>
